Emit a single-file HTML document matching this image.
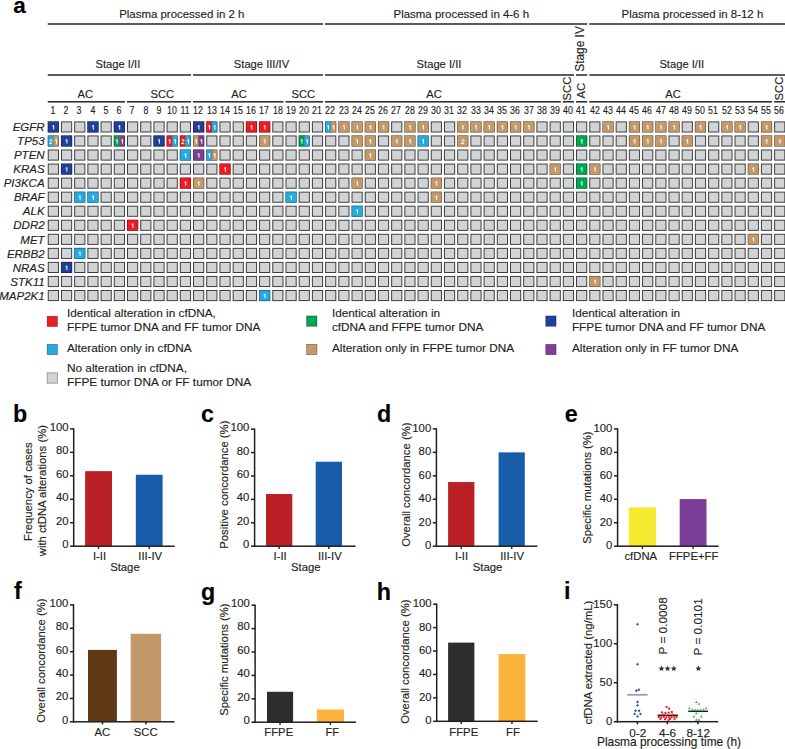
<!DOCTYPE html>
<html><head><meta charset="utf-8"><style>
html,body{margin:0;padding:0;background:#fff;}
#w{position:relative;width:785px;height:749px;overflow:hidden;background:#fff;font-family:"Liberation Sans", sans-serif;}
.t{position:absolute;white-space:nowrap;line-height:1;font-family:"Liberation Sans", sans-serif;-webkit-text-stroke:0.15px currentColor;}
.r{position:absolute;}
</style></head><body><div id="w">
<div class="t" style="left:13.24px;top:-5.00px;font-size:22.5px;font-weight:bold;color:#000;letter-spacing:0px;">a</div><svg class="r" style="left:0;top:0" width="785" height="749"><rect x="47.75" y="23.25" width="275.34" height="1.50" fill="#262626" /><rect x="325.10" y="23.25" width="262.13" height="1.50" fill="#262626" /><rect x="589.24" y="23.25" width="196.76" height="1.50" fill="#262626" /><rect x="47.75" y="74.25" width="143.27" height="1.50" fill="#262626" /><rect x="193.03" y="74.25" width="130.06" height="1.50" fill="#262626" /><rect x="325.10" y="74.25" width="248.93" height="1.50" fill="#262626" /><rect x="576.03" y="74.25" width="11.20" height="1.50" fill="#262626" /><rect x="589.24" y="74.25" width="196.76" height="1.50" fill="#262626" /><rect x="47.75" y="101.05" width="77.23" height="1.50" fill="#262626" /><rect x="126.99" y="101.05" width="64.03" height="1.50" fill="#262626" /><rect x="193.03" y="101.05" width="90.44" height="1.50" fill="#262626" /><rect x="285.48" y="101.05" width="37.61" height="1.50" fill="#262626" /><rect x="325.10" y="101.05" width="235.72" height="1.50" fill="#262626" /><rect x="562.82" y="101.05" width="11.20" height="1.50" fill="#262626" /><rect x="576.03" y="101.05" width="11.20" height="1.50" fill="#262626" /><rect x="589.24" y="101.05" width="182.89" height="1.50" fill="#262626" /><rect x="774.13" y="101.05" width="11.87" height="1.50" fill="#262626" /><rect x="47.15" y="316.25" width="10.30" height="10.30" fill="#ed1c24" stroke="#000" stroke-opacity="0.45" stroke-width="0.7"/><rect x="47.15" y="344.35" width="10.30" height="10.30" fill="#27aae1" stroke="#000" stroke-opacity="0.45" stroke-width="0.7"/><rect x="47.15" y="372.85" width="10.30" height="10.30" fill="#d1d3d4" stroke="#000" stroke-opacity="0.45" stroke-width="0.7"/><rect x="306.65" y="315.95" width="10.30" height="10.30" fill="#00a651" stroke="#000" stroke-opacity="0.45" stroke-width="0.7"/><rect x="306.65" y="344.35" width="10.30" height="10.30" fill="#c49a6c" stroke="#000" stroke-opacity="0.45" stroke-width="0.7"/><rect x="545.75" y="315.95" width="10.30" height="10.30" fill="#21409a" stroke="#000" stroke-opacity="0.45" stroke-width="0.7"/><rect x="545.75" y="344.35" width="10.30" height="10.30" fill="#7f3f98" stroke="#000" stroke-opacity="0.45" stroke-width="0.7"/><rect x="85.10" y="471.13" width="26.90" height="75.07" fill="#bb2026" /><rect x="135.80" y="474.76" width="26.80" height="71.44" fill="#165ca9" /><rect x="72.95" y="428.20" width="1.50" height="118.70" fill="#231f20" /><rect x="72.95" y="545.45" width="101.75" height="1.50" fill="#231f20" /><rect x="70.10" y="545.45" width="3.60" height="1.50" fill="#231f20" /><rect x="70.10" y="521.99" width="3.60" height="1.50" fill="#231f20" /><rect x="70.10" y="498.53" width="3.60" height="1.50" fill="#231f20" /><rect x="70.10" y="475.07" width="3.60" height="1.50" fill="#231f20" /><rect x="70.10" y="451.61" width="3.60" height="1.50" fill="#231f20" /><rect x="70.10" y="428.15" width="3.60" height="1.50" fill="#231f20" /><rect x="97.80" y="546.20" width="1.50" height="2.60" fill="#231f20" /><rect x="148.45" y="546.20" width="1.50" height="2.60" fill="#231f20" /><rect x="266.00" y="494.02" width="26.30" height="52.18" fill="#bb2026" /><rect x="315.70" y="461.73" width="26.30" height="84.47" fill="#165ca9" /><rect x="253.85" y="428.50" width="1.50" height="118.40" fill="#231f20" /><rect x="253.85" y="545.45" width="101.75" height="1.50" fill="#231f20" /><rect x="251.00" y="545.45" width="3.60" height="1.50" fill="#231f20" /><rect x="251.00" y="522.05" width="3.60" height="1.50" fill="#231f20" /><rect x="251.00" y="498.65" width="3.60" height="1.50" fill="#231f20" /><rect x="251.00" y="475.25" width="3.60" height="1.50" fill="#231f20" /><rect x="251.00" y="451.85" width="3.60" height="1.50" fill="#231f20" /><rect x="251.00" y="428.45" width="3.60" height="1.50" fill="#231f20" /><rect x="278.40" y="546.20" width="1.50" height="2.60" fill="#231f20" /><rect x="328.10" y="546.20" width="1.50" height="2.60" fill="#231f20" /><rect x="448.10" y="482.04" width="26.30" height="64.16" fill="#bb2026" /><rect x="498.60" y="452.36" width="26.20" height="93.84" fill="#165ca9" /><rect x="435.65" y="428.20" width="1.50" height="118.70" fill="#231f20" /><rect x="435.65" y="545.45" width="101.75" height="1.50" fill="#231f20" /><rect x="432.80" y="545.45" width="3.60" height="1.50" fill="#231f20" /><rect x="432.80" y="521.99" width="3.60" height="1.50" fill="#231f20" /><rect x="432.80" y="498.53" width="3.60" height="1.50" fill="#231f20" /><rect x="432.80" y="475.07" width="3.60" height="1.50" fill="#231f20" /><rect x="432.80" y="451.61" width="3.60" height="1.50" fill="#231f20" /><rect x="432.80" y="428.15" width="3.60" height="1.50" fill="#231f20" /><rect x="460.50" y="546.20" width="1.50" height="2.60" fill="#231f20" /><rect x="510.95" y="546.20" width="1.50" height="2.60" fill="#231f20" /><rect x="628.80" y="507.37" width="27.20" height="38.83" fill="#f5ea30" /><rect x="679.70" y="499.05" width="26.80" height="47.15" fill="#7c3f97" /><rect x="616.85" y="428.20" width="1.50" height="118.70" fill="#231f20" /><rect x="616.85" y="545.45" width="101.75" height="1.50" fill="#231f20" /><rect x="614.00" y="545.45" width="3.60" height="1.50" fill="#231f20" /><rect x="614.00" y="521.99" width="3.60" height="1.50" fill="#231f20" /><rect x="614.00" y="498.53" width="3.60" height="1.50" fill="#231f20" /><rect x="614.00" y="475.07" width="3.60" height="1.50" fill="#231f20" /><rect x="614.00" y="451.61" width="3.60" height="1.50" fill="#231f20" /><rect x="614.00" y="428.15" width="3.60" height="1.50" fill="#231f20" /><rect x="641.65" y="546.20" width="1.50" height="2.60" fill="#231f20" /><rect x="692.35" y="546.20" width="1.50" height="2.60" fill="#231f20" /><rect x="88.00" y="649.91" width="28.90" height="71.89" fill="#603a17" /><rect x="130.70" y="633.77" width="30.40" height="88.03" fill="#c2986b" /><rect x="72.75" y="604.20" width="1.50" height="118.30" fill="#231f20" /><rect x="72.75" y="721.05" width="101.75" height="1.50" fill="#231f20" /><rect x="69.90" y="721.05" width="3.60" height="1.50" fill="#231f20" /><rect x="69.90" y="697.67" width="3.60" height="1.50" fill="#231f20" /><rect x="69.90" y="674.29" width="3.60" height="1.50" fill="#231f20" /><rect x="69.90" y="650.91" width="3.60" height="1.50" fill="#231f20" /><rect x="69.90" y="627.53" width="3.60" height="1.50" fill="#231f20" /><rect x="69.90" y="604.15" width="3.60" height="1.50" fill="#231f20" /><rect x="101.70" y="721.80" width="1.50" height="2.60" fill="#231f20" /><rect x="145.15" y="721.80" width="1.50" height="2.60" fill="#231f20" /><rect x="267.00" y="691.78" width="26.10" height="30.42" fill="#2d2d2d" /><rect x="316.80" y="709.45" width="27.20" height="12.75" fill="#fbb53c" /><rect x="254.35" y="604.50" width="1.50" height="118.40" fill="#231f20" /><rect x="254.35" y="721.45" width="101.75" height="1.50" fill="#231f20" /><rect x="251.50" y="721.45" width="3.60" height="1.50" fill="#231f20" /><rect x="251.50" y="698.05" width="3.60" height="1.50" fill="#231f20" /><rect x="251.50" y="674.65" width="3.60" height="1.50" fill="#231f20" /><rect x="251.50" y="651.25" width="3.60" height="1.50" fill="#231f20" /><rect x="251.50" y="627.85" width="3.60" height="1.50" fill="#231f20" /><rect x="251.50" y="604.45" width="3.60" height="1.50" fill="#231f20" /><rect x="279.30" y="722.20" width="1.50" height="2.60" fill="#231f20" /><rect x="329.65" y="722.20" width="1.50" height="2.60" fill="#231f20" /><rect x="448.10" y="642.61" width="26.30" height="78.69" fill="#2d2d2d" /><rect x="498.60" y="654.08" width="26.70" height="67.22" fill="#fbb53c" /><rect x="435.95" y="603.50" width="1.50" height="118.50" fill="#231f20" /><rect x="435.95" y="720.55" width="101.75" height="1.50" fill="#231f20" /><rect x="433.10" y="720.55" width="3.60" height="1.50" fill="#231f20" /><rect x="433.10" y="697.13" width="3.60" height="1.50" fill="#231f20" /><rect x="433.10" y="673.71" width="3.60" height="1.50" fill="#231f20" /><rect x="433.10" y="650.29" width="3.60" height="1.50" fill="#231f20" /><rect x="433.10" y="626.87" width="3.60" height="1.50" fill="#231f20" /><rect x="433.10" y="603.45" width="3.60" height="1.50" fill="#231f20" /><rect x="460.50" y="721.30" width="1.50" height="2.60" fill="#231f20" /><rect x="511.20" y="721.30" width="1.50" height="2.60" fill="#231f20" /><rect x="616.65" y="604.10" width="1.50" height="118.30" fill="#231f20" /><rect x="616.65" y="720.95" width="101.55" height="1.50" fill="#231f20" /><rect x="613.80" y="720.95" width="3.60" height="1.50" fill="#231f20" /><rect x="613.80" y="681.98" width="3.60" height="1.50" fill="#231f20" /><rect x="613.80" y="643.02" width="3.60" height="1.50" fill="#231f20" /><rect x="613.80" y="604.05" width="3.60" height="1.50" fill="#231f20" /><rect x="636.65" y="721.70" width="1.50" height="2.60" fill="#231f20" /><rect x="666.55" y="721.70" width="1.50" height="2.60" fill="#231f20" /><rect x="697.15" y="721.70" width="1.50" height="2.60" fill="#231f20" /><polygon points="661.50,665.50 662.32,667.47 664.45,667.64 662.83,669.03 663.32,671.11 661.50,670.00 659.68,671.11 660.17,669.03 658.55,667.64 660.68,667.47" fill="#333"/><polygon points="667.60,665.50 668.42,667.47 670.55,667.64 668.93,669.03 669.42,671.11 667.60,670.00 665.78,671.11 666.27,669.03 664.65,667.64 666.78,667.47" fill="#333"/><polygon points="673.80,665.50 674.62,667.47 676.75,667.64 675.13,669.03 675.62,671.11 673.80,670.00 671.98,671.11 672.47,669.03 670.85,667.64 672.98,667.47" fill="#333"/><polygon points="698.40,665.50 699.22,667.47 701.35,667.64 699.73,669.03 700.22,671.11 698.40,670.00 696.58,671.11 697.07,669.03 695.45,667.64 697.58,667.47" fill="#333"/><rect x="627.30" y="693.90" width="20.30" height="1.80" fill="#9d9fa2" /><rect x="657.60" y="714.55" width="20.40" height="1.50" fill="#231f20" /><rect x="688.20" y="710.55" width="19.80" height="1.50" fill="#231f20" /><polygon points="637.50,622.85 638.95,624.30 637.50,625.75 636.05,624.30" fill="#2b4c9b"/><polygon points="637.50,662.75 638.95,664.20 637.50,665.65 636.05,664.20" fill="#2b4c9b"/><polygon points="636.30,689.25 637.75,690.70 636.30,692.15 634.85,690.70" fill="#2b4c9b"/><polygon points="638.90,688.25 640.35,689.70 638.90,691.15 637.45,689.70" fill="#2b4c9b"/><polygon points="637.50,700.55 638.95,702.00 637.50,703.45 636.05,702.00" fill="#2b4c9b"/><polygon points="637.50,703.95 638.95,705.40 637.50,706.85 636.05,705.40" fill="#2b4c9b"/><polygon points="635.50,709.25 636.95,710.70 635.50,712.15 634.05,710.70" fill="#2b4c9b"/><polygon points="639.10,709.25 640.55,710.70 639.10,712.15 637.65,710.70" fill="#2b4c9b"/><polygon points="634.60,712.45 636.05,713.90 634.60,715.35 633.15,713.90" fill="#2b4c9b"/><polygon points="640.40,712.45 641.85,713.90 640.40,715.35 638.95,713.90" fill="#2b4c9b"/><polygon points="637.50,714.95 638.95,716.40 637.50,717.85 636.05,716.40" fill="#2b4c9b"/><rect x="665.50" y="705.90" width="2.00" height="2.00" fill="#ec1c24" /><rect x="668.00" y="707.60" width="2.00" height="2.00" fill="#ec1c24" /><rect x="661.00" y="711.40" width="2.00" height="2.00" fill="#ec1c24" /><rect x="664.50" y="711.90" width="2.00" height="2.00" fill="#ec1c24" /><rect x="667.60" y="711.60" width="2.00" height="2.00" fill="#ec1c24" /><rect x="670.80" y="711.00" width="2.00" height="2.00" fill="#ec1c24" /><rect x="657.80" y="716.00" width="2.00" height="2.00" fill="#ec1c24" /><rect x="660.30" y="716.20" width="2.00" height="2.00" fill="#ec1c24" /><rect x="662.80" y="715.80" width="2.00" height="2.00" fill="#ec1c24" /><rect x="665.30" y="716.40" width="2.00" height="2.00" fill="#ec1c24" /><rect x="667.80" y="715.90" width="2.00" height="2.00" fill="#ec1c24" /><rect x="670.30" y="716.20" width="2.00" height="2.00" fill="#ec1c24" /><rect x="672.80" y="715.80" width="2.00" height="2.00" fill="#ec1c24" /><rect x="675.40" y="716.10" width="2.00" height="2.00" fill="#ec1c24" /><rect x="659.50" y="718.00" width="2.00" height="2.00" fill="#ec1c24" /><rect x="664.00" y="718.20" width="2.00" height="2.00" fill="#ec1c24" /><rect x="669.00" y="718.00" width="2.00" height="2.00" fill="#ec1c24" /><rect x="673.50" y="718.20" width="2.00" height="2.00" fill="#ec1c24" /><rect x="667.40" y="719.30" width="2.00" height="2.00" fill="#ec1c24" /><rect x="662.50" y="713.60" width="2.00" height="2.00" fill="#ec1c24" /><rect x="671.50" y="713.60" width="2.00" height="2.00" fill="#ec1c24" /><polygon points="696.40,700.70 697.80,703.10 695.00,703.10" fill="#39b54a"/><polygon points="699.00,702.40 700.40,704.80 697.60,704.80" fill="#39b54a"/><polygon points="689.40,706.90 690.80,709.30 688.00,709.30" fill="#39b54a"/><polygon points="692.60,708.20 694.00,710.60 691.20,710.60" fill="#39b54a"/><polygon points="695.20,708.50 696.60,710.90 693.80,710.90" fill="#39b54a"/><polygon points="697.70,708.70 699.10,711.10 696.30,711.10" fill="#39b54a"/><polygon points="700.30,708.50 701.70,710.90 698.90,710.90" fill="#39b54a"/><polygon points="703.40,708.20 704.80,710.60 702.00,710.60" fill="#39b54a"/><polygon points="706.00,706.90 707.40,709.30 704.60,709.30" fill="#39b54a"/><polygon points="696.40,711.90 697.80,714.30 695.00,714.30" fill="#39b54a"/><polygon points="693.90,715.10 695.30,717.50 692.50,717.50" fill="#39b54a"/><polygon points="701.50,715.10 702.90,717.50 700.10,717.50" fill="#39b54a"/><polygon points="696.40,718.30 697.80,720.70 695.00,720.70" fill="#39b54a"/><polygon points="699.00,718.30 700.40,720.70 697.60,720.70" fill="#39b54a"/></svg><div class="t" style="left:-18.20px;width:400px;text-align:center;top:9.00px;font-size:11.45px;font-weight:normal;color:#231f20;letter-spacing:0px;">Plasma processed in 2 h</div>
<div class="t" style="left:261.30px;width:400px;text-align:center;top:9.00px;font-size:11.45px;font-weight:normal;color:#231f20;letter-spacing:0px;">Plasma processed in 4-6 h</div>
<div class="t" style="left:492.40px;width:400px;text-align:center;top:9.00px;font-size:11.45px;font-weight:normal;color:#231f20;letter-spacing:0px;">Plasma processed in 8-12 h</div>
<div class="t" style="left:-82.10px;width:400px;text-align:center;top:59.00px;font-size:11.2px;font-weight:normal;color:#231f20;letter-spacing:0px;">Stage I/II</div>
<div class="t" style="left:61.50px;width:400px;text-align:center;top:59.00px;font-size:11.2px;font-weight:normal;color:#231f20;letter-spacing:0px;">Stage III/IV</div>
<div class="t" style="left:239.00px;width:400px;text-align:center;top:59.00px;font-size:11.2px;font-weight:normal;color:#231f20;letter-spacing:0px;">Stage I/II</div>
<div class="t" style="left:481.80px;width:400px;text-align:center;top:59.00px;font-size:11.2px;font-weight:normal;color:#231f20;letter-spacing:0px;">Stage I/II</div>
<div class="t" style="left:380.93px;top:43.05px;width:400px;height:11.9px;line-height:11.9px;text-align:center;font-size:11.9px;color:#231f20;font-weight:normal;transform:rotate(-90deg);transform-origin:200px 5.95px">Stage IV</div>
<div class="t" style="left:-114.80px;width:400px;text-align:center;top:89.00px;font-size:11.2px;font-weight:normal;color:#231f20;letter-spacing:0px;">AC</div>
<div class="t" style="left:-37.70px;width:400px;text-align:center;top:89.00px;font-size:11.2px;font-weight:normal;color:#231f20;letter-spacing:0px;">SCC</div>
<div class="t" style="left:39.10px;width:400px;text-align:center;top:89.00px;font-size:11.2px;font-weight:normal;color:#231f20;letter-spacing:0px;">AC</div>
<div class="t" style="left:103.30px;width:400px;text-align:center;top:89.00px;font-size:11.2px;font-weight:normal;color:#231f20;letter-spacing:0px;">SCC</div>
<div class="t" style="left:234.00px;width:400px;text-align:center;top:89.00px;font-size:11.2px;font-weight:normal;color:#231f20;letter-spacing:0px;">AC</div>
<div class="t" style="left:473.10px;width:400px;text-align:center;top:89.00px;font-size:11.2px;font-weight:normal;color:#231f20;letter-spacing:0px;">AC</div>
<div class="t" style="left:368.42px;top:82.60px;width:400px;height:11.2px;line-height:11.2px;text-align:center;font-size:11.2px;color:#231f20;font-weight:normal;transform:rotate(-90deg);transform-origin:200px 5.6px">SCC</div>
<div class="t" style="left:381.63px;top:85.40px;width:400px;height:11.2px;line-height:11.2px;text-align:center;font-size:11.2px;color:#231f20;font-weight:normal;transform:rotate(-90deg);transform-origin:200px 5.6px">AC</div>
<div class="t" style="left:579.74px;top:82.90px;width:400px;height:11.2px;line-height:11.2px;text-align:center;font-size:11.2px;color:#231f20;font-weight:normal;transform:rotate(-90deg);transform-origin:200px 5.6px">SCC</div>
<div class="t" style="left:-146.95px;width:400px;text-align:center;top:106.00px;font-size:10.0px;font-weight:normal;color:#231f20;letter-spacing:0px;transform:scaleX(0.88)">1</div>
<div class="t" style="left:-133.74px;width:400px;text-align:center;top:106.00px;font-size:10.0px;font-weight:normal;color:#231f20;letter-spacing:0px;transform:scaleX(0.88)">2</div>
<div class="t" style="left:-120.54px;width:400px;text-align:center;top:106.00px;font-size:10.0px;font-weight:normal;color:#231f20;letter-spacing:0px;transform:scaleX(0.88)">3</div>
<div class="t" style="left:-107.33px;width:400px;text-align:center;top:106.00px;font-size:10.0px;font-weight:normal;color:#231f20;letter-spacing:0px;transform:scaleX(0.88)">4</div>
<div class="t" style="left:-94.12px;width:400px;text-align:center;top:106.00px;font-size:10.0px;font-weight:normal;color:#231f20;letter-spacing:0px;transform:scaleX(0.88)">5</div>
<div class="t" style="left:-80.92px;width:400px;text-align:center;top:106.00px;font-size:10.0px;font-weight:normal;color:#231f20;letter-spacing:0px;transform:scaleX(0.88)">6</div>
<div class="t" style="left:-67.71px;width:400px;text-align:center;top:106.00px;font-size:10.0px;font-weight:normal;color:#231f20;letter-spacing:0px;transform:scaleX(0.88)">7</div>
<div class="t" style="left:-54.50px;width:400px;text-align:center;top:106.00px;font-size:10.0px;font-weight:normal;color:#231f20;letter-spacing:0px;transform:scaleX(0.88)">8</div>
<div class="t" style="left:-41.29px;width:400px;text-align:center;top:106.00px;font-size:10.0px;font-weight:normal;color:#231f20;letter-spacing:0px;transform:scaleX(0.88)">9</div>
<div class="t" style="left:-28.09px;width:400px;text-align:center;top:106.00px;font-size:10.0px;font-weight:normal;color:#231f20;letter-spacing:0px;transform:scaleX(0.88)">10</div>
<div class="t" style="left:-14.88px;width:400px;text-align:center;top:106.00px;font-size:10.0px;font-weight:normal;color:#231f20;letter-spacing:0px;transform:scaleX(0.88)">11</div>
<div class="t" style="left:-1.67px;width:400px;text-align:center;top:106.00px;font-size:10.0px;font-weight:normal;color:#231f20;letter-spacing:0px;transform:scaleX(0.88)">12</div>
<div class="t" style="left:11.53px;width:400px;text-align:center;top:106.00px;font-size:10.0px;font-weight:normal;color:#231f20;letter-spacing:0px;transform:scaleX(0.88)">13</div>
<div class="t" style="left:24.74px;width:400px;text-align:center;top:106.00px;font-size:10.0px;font-weight:normal;color:#231f20;letter-spacing:0px;transform:scaleX(0.88)">14</div>
<div class="t" style="left:37.95px;width:400px;text-align:center;top:106.00px;font-size:10.0px;font-weight:normal;color:#231f20;letter-spacing:0px;transform:scaleX(0.88)">15</div>
<div class="t" style="left:51.16px;width:400px;text-align:center;top:106.00px;font-size:10.0px;font-weight:normal;color:#231f20;letter-spacing:0px;transform:scaleX(0.88)">16</div>
<div class="t" style="left:64.36px;width:400px;text-align:center;top:106.00px;font-size:10.0px;font-weight:normal;color:#231f20;letter-spacing:0px;transform:scaleX(0.88)">17</div>
<div class="t" style="left:77.57px;width:400px;text-align:center;top:106.00px;font-size:10.0px;font-weight:normal;color:#231f20;letter-spacing:0px;transform:scaleX(0.88)">18</div>
<div class="t" style="left:90.78px;width:400px;text-align:center;top:106.00px;font-size:10.0px;font-weight:normal;color:#231f20;letter-spacing:0px;transform:scaleX(0.88)">19</div>
<div class="t" style="left:103.98px;width:400px;text-align:center;top:106.00px;font-size:10.0px;font-weight:normal;color:#231f20;letter-spacing:0px;transform:scaleX(0.88)">20</div>
<div class="t" style="left:117.19px;width:400px;text-align:center;top:106.00px;font-size:10.0px;font-weight:normal;color:#231f20;letter-spacing:0px;transform:scaleX(0.88)">21</div>
<div class="t" style="left:130.40px;width:400px;text-align:center;top:106.00px;font-size:10.0px;font-weight:normal;color:#231f20;letter-spacing:0px;transform:scaleX(0.88)">22</div>
<div class="t" style="left:143.60px;width:400px;text-align:center;top:106.00px;font-size:10.0px;font-weight:normal;color:#231f20;letter-spacing:0px;transform:scaleX(0.88)">23</div>
<div class="t" style="left:156.81px;width:400px;text-align:center;top:106.00px;font-size:10.0px;font-weight:normal;color:#231f20;letter-spacing:0px;transform:scaleX(0.88)">24</div>
<div class="t" style="left:170.02px;width:400px;text-align:center;top:106.00px;font-size:10.0px;font-weight:normal;color:#231f20;letter-spacing:0px;transform:scaleX(0.88)">25</div>
<div class="t" style="left:183.23px;width:400px;text-align:center;top:106.00px;font-size:10.0px;font-weight:normal;color:#231f20;letter-spacing:0px;transform:scaleX(0.88)">26</div>
<div class="t" style="left:196.43px;width:400px;text-align:center;top:106.00px;font-size:10.0px;font-weight:normal;color:#231f20;letter-spacing:0px;transform:scaleX(0.88)">27</div>
<div class="t" style="left:209.64px;width:400px;text-align:center;top:106.00px;font-size:10.0px;font-weight:normal;color:#231f20;letter-spacing:0px;transform:scaleX(0.88)">28</div>
<div class="t" style="left:222.85px;width:400px;text-align:center;top:106.00px;font-size:10.0px;font-weight:normal;color:#231f20;letter-spacing:0px;transform:scaleX(0.88)">29</div>
<div class="t" style="left:236.05px;width:400px;text-align:center;top:106.00px;font-size:10.0px;font-weight:normal;color:#231f20;letter-spacing:0px;transform:scaleX(0.88)">30</div>
<div class="t" style="left:249.26px;width:400px;text-align:center;top:106.00px;font-size:10.0px;font-weight:normal;color:#231f20;letter-spacing:0px;transform:scaleX(0.88)">31</div>
<div class="t" style="left:262.47px;width:400px;text-align:center;top:106.00px;font-size:10.0px;font-weight:normal;color:#231f20;letter-spacing:0px;transform:scaleX(0.88)">32</div>
<div class="t" style="left:275.67px;width:400px;text-align:center;top:106.00px;font-size:10.0px;font-weight:normal;color:#231f20;letter-spacing:0px;transform:scaleX(0.88)">33</div>
<div class="t" style="left:288.88px;width:400px;text-align:center;top:106.00px;font-size:10.0px;font-weight:normal;color:#231f20;letter-spacing:0px;transform:scaleX(0.88)">34</div>
<div class="t" style="left:302.09px;width:400px;text-align:center;top:106.00px;font-size:10.0px;font-weight:normal;color:#231f20;letter-spacing:0px;transform:scaleX(0.88)">35</div>
<div class="t" style="left:315.30px;width:400px;text-align:center;top:106.00px;font-size:10.0px;font-weight:normal;color:#231f20;letter-spacing:0px;transform:scaleX(0.88)">36</div>
<div class="t" style="left:328.50px;width:400px;text-align:center;top:106.00px;font-size:10.0px;font-weight:normal;color:#231f20;letter-spacing:0px;transform:scaleX(0.88)">37</div>
<div class="t" style="left:341.71px;width:400px;text-align:center;top:106.00px;font-size:10.0px;font-weight:normal;color:#231f20;letter-spacing:0px;transform:scaleX(0.88)">38</div>
<div class="t" style="left:354.92px;width:400px;text-align:center;top:106.00px;font-size:10.0px;font-weight:normal;color:#231f20;letter-spacing:0px;transform:scaleX(0.88)">39</div>
<div class="t" style="left:368.12px;width:400px;text-align:center;top:106.00px;font-size:10.0px;font-weight:normal;color:#231f20;letter-spacing:0px;transform:scaleX(0.88)">40</div>
<div class="t" style="left:381.33px;width:400px;text-align:center;top:106.00px;font-size:10.0px;font-weight:normal;color:#231f20;letter-spacing:0px;transform:scaleX(0.88)">41</div>
<div class="t" style="left:394.54px;width:400px;text-align:center;top:106.00px;font-size:10.0px;font-weight:normal;color:#231f20;letter-spacing:0px;transform:scaleX(0.88)">42</div>
<div class="t" style="left:407.74px;width:400px;text-align:center;top:106.00px;font-size:10.0px;font-weight:normal;color:#231f20;letter-spacing:0px;transform:scaleX(0.88)">43</div>
<div class="t" style="left:420.95px;width:400px;text-align:center;top:106.00px;font-size:10.0px;font-weight:normal;color:#231f20;letter-spacing:0px;transform:scaleX(0.88)">44</div>
<div class="t" style="left:434.16px;width:400px;text-align:center;top:106.00px;font-size:10.0px;font-weight:normal;color:#231f20;letter-spacing:0px;transform:scaleX(0.88)">45</div>
<div class="t" style="left:447.37px;width:400px;text-align:center;top:106.00px;font-size:10.0px;font-weight:normal;color:#231f20;letter-spacing:0px;transform:scaleX(0.88)">46</div>
<div class="t" style="left:460.57px;width:400px;text-align:center;top:106.00px;font-size:10.0px;font-weight:normal;color:#231f20;letter-spacing:0px;transform:scaleX(0.88)">47</div>
<div class="t" style="left:473.78px;width:400px;text-align:center;top:106.00px;font-size:10.0px;font-weight:normal;color:#231f20;letter-spacing:0px;transform:scaleX(0.88)">48</div>
<div class="t" style="left:486.99px;width:400px;text-align:center;top:106.00px;font-size:10.0px;font-weight:normal;color:#231f20;letter-spacing:0px;transform:scaleX(0.88)">49</div>
<div class="t" style="left:500.19px;width:400px;text-align:center;top:106.00px;font-size:10.0px;font-weight:normal;color:#231f20;letter-spacing:0px;transform:scaleX(0.88)">50</div>
<div class="t" style="left:513.40px;width:400px;text-align:center;top:106.00px;font-size:10.0px;font-weight:normal;color:#231f20;letter-spacing:0px;transform:scaleX(0.88)">51</div>
<div class="t" style="left:526.61px;width:400px;text-align:center;top:106.00px;font-size:10.0px;font-weight:normal;color:#231f20;letter-spacing:0px;transform:scaleX(0.88)">52</div>
<div class="t" style="left:539.81px;width:400px;text-align:center;top:106.00px;font-size:10.0px;font-weight:normal;color:#231f20;letter-spacing:0px;transform:scaleX(0.88)">53</div>
<div class="t" style="left:553.02px;width:400px;text-align:center;top:106.00px;font-size:10.0px;font-weight:normal;color:#231f20;letter-spacing:0px;transform:scaleX(0.88)">54</div>
<div class="t" style="left:566.23px;width:400px;text-align:center;top:106.00px;font-size:10.0px;font-weight:normal;color:#231f20;letter-spacing:0px;transform:scaleX(0.88)">55</div>
<div class="t" style="left:579.44px;width:400px;text-align:center;top:106.00px;font-size:10.0px;font-weight:normal;color:#231f20;letter-spacing:0px;transform:scaleX(0.88)">56</div>
<div class="t" style="left:-355.40px;width:400px;text-align:right;top:122.00px;font-size:11.5px;font-weight:normal;color:#231f20;letter-spacing:0px;font-style:italic">EGFR</div>
<div class="t" style="left:-355.40px;width:400px;text-align:right;top:136.00px;font-size:11.5px;font-weight:normal;color:#231f20;letter-spacing:0px;font-style:italic">TP53</div>
<div class="t" style="left:-355.40px;width:400px;text-align:right;top:150.00px;font-size:11.5px;font-weight:normal;color:#231f20;letter-spacing:0px;font-style:italic">PTEN</div>
<div class="t" style="left:-355.40px;width:400px;text-align:right;top:164.00px;font-size:11.5px;font-weight:normal;color:#231f20;letter-spacing:0px;font-style:italic">KRAS</div>
<div class="t" style="left:-355.40px;width:400px;text-align:right;top:178.00px;font-size:11.5px;font-weight:normal;color:#231f20;letter-spacing:0px;font-style:italic">PI3KCA</div>
<div class="t" style="left:-355.40px;width:400px;text-align:right;top:192.00px;font-size:11.5px;font-weight:normal;color:#231f20;letter-spacing:0px;font-style:italic">BRAF</div>
<div class="t" style="left:-355.40px;width:400px;text-align:right;top:206.00px;font-size:11.5px;font-weight:normal;color:#231f20;letter-spacing:0px;font-style:italic">ALK</div>
<div class="t" style="left:-355.40px;width:400px;text-align:right;top:220.00px;font-size:11.5px;font-weight:normal;color:#231f20;letter-spacing:0px;font-style:italic">DDR2</div>
<div class="t" style="left:-355.40px;width:400px;text-align:right;top:235.00px;font-size:11.5px;font-weight:normal;color:#231f20;letter-spacing:0px;font-style:italic">MET</div>
<div class="t" style="left:-355.40px;width:400px;text-align:right;top:249.00px;font-size:11.5px;font-weight:normal;color:#231f20;letter-spacing:0px;font-style:italic">ERBB2</div>
<div class="t" style="left:-355.40px;width:400px;text-align:right;top:263.00px;font-size:11.5px;font-weight:normal;color:#231f20;letter-spacing:0px;font-style:italic">NRAS</div>
<div class="t" style="left:-355.40px;width:400px;text-align:right;top:277.00px;font-size:11.5px;font-weight:normal;color:#231f20;letter-spacing:0px;font-style:italic">STK11</div>
<div class="t" style="left:-355.40px;width:400px;text-align:right;top:291.00px;font-size:11.5px;font-weight:normal;color:#231f20;letter-spacing:0px;font-style:italic">MAP2K1</div>
<svg class="r" style="left:0;top:0" width="785" height="310"><rect x="47.75" y="121.40" width="11.20" height="11.10" fill="#21409a"/><rect x="48.05" y="121.70" width="10.60" height="10.50" fill="none" stroke="#000" stroke-opacity="0.5" stroke-width="0.6"/><rect x="61.46" y="121.90" width="10.20" height="10.10" fill="#d1d3d4" stroke="#3f3f41" stroke-width="1"/><rect x="74.66" y="121.90" width="10.20" height="10.10" fill="#d1d3d4" stroke="#3f3f41" stroke-width="1"/><rect x="87.37" y="121.40" width="11.20" height="11.10" fill="#21409a"/><rect x="87.67" y="121.70" width="10.60" height="10.50" fill="none" stroke="#000" stroke-opacity="0.5" stroke-width="0.6"/><rect x="101.08" y="121.90" width="10.20" height="10.10" fill="#d1d3d4" stroke="#3f3f41" stroke-width="1"/><rect x="113.78" y="121.40" width="11.20" height="11.10" fill="#21409a"/><rect x="114.08" y="121.70" width="10.60" height="10.50" fill="none" stroke="#000" stroke-opacity="0.5" stroke-width="0.6"/><rect x="127.49" y="121.90" width="10.20" height="10.10" fill="#d1d3d4" stroke="#3f3f41" stroke-width="1"/><rect x="140.70" y="121.90" width="10.20" height="10.10" fill="#d1d3d4" stroke="#3f3f41" stroke-width="1"/><rect x="153.91" y="121.90" width="10.20" height="10.10" fill="#d1d3d4" stroke="#3f3f41" stroke-width="1"/><rect x="167.11" y="121.90" width="10.20" height="10.10" fill="#d1d3d4" stroke="#3f3f41" stroke-width="1"/><rect x="180.32" y="121.90" width="10.20" height="10.10" fill="#d1d3d4" stroke="#3f3f41" stroke-width="1"/><rect x="193.03" y="121.40" width="11.20" height="11.10" fill="#2b3990"/><rect x="193.33" y="121.70" width="10.60" height="10.50" fill="none" stroke="#000" stroke-opacity="0.5" stroke-width="0.6"/><rect x="206.23" y="121.40" width="5.60" height="11.10" fill="#ed1c24"/><rect x="211.83" y="121.40" width="5.60" height="11.10" fill="#27aae1"/><line x1="211.83" y1="121.40" x2="211.83" y2="132.50" stroke="#000" stroke-opacity="0.45" stroke-width="0.6"/><rect x="206.53" y="121.70" width="10.60" height="10.50" fill="none" stroke="#000" stroke-opacity="0.5" stroke-width="0.6"/><rect x="219.94" y="121.90" width="10.20" height="10.10" fill="#d1d3d4" stroke="#3f3f41" stroke-width="1"/><rect x="233.15" y="121.90" width="10.20" height="10.10" fill="#d1d3d4" stroke="#3f3f41" stroke-width="1"/><rect x="245.86" y="121.40" width="11.20" height="11.10" fill="#ed1c24"/><rect x="246.16" y="121.70" width="10.60" height="10.50" fill="none" stroke="#000" stroke-opacity="0.5" stroke-width="0.6"/><rect x="259.06" y="121.40" width="11.20" height="11.10" fill="#ed1c24"/><rect x="259.36" y="121.70" width="10.60" height="10.50" fill="none" stroke="#000" stroke-opacity="0.5" stroke-width="0.6"/><rect x="272.77" y="121.90" width="10.20" height="10.10" fill="#d1d3d4" stroke="#3f3f41" stroke-width="1"/><rect x="285.98" y="121.90" width="10.20" height="10.10" fill="#d1d3d4" stroke="#3f3f41" stroke-width="1"/><rect x="299.18" y="121.90" width="10.20" height="10.10" fill="#d1d3d4" stroke="#3f3f41" stroke-width="1"/><rect x="312.39" y="121.90" width="10.20" height="10.10" fill="#d1d3d4" stroke="#3f3f41" stroke-width="1"/><rect x="325.10" y="121.40" width="5.60" height="11.10" fill="#27aae1"/><rect x="330.70" y="121.40" width="5.60" height="11.10" fill="#c49a6c"/><line x1="330.70" y1="121.40" x2="330.70" y2="132.50" stroke="#000" stroke-opacity="0.45" stroke-width="0.6"/><rect x="325.40" y="121.70" width="10.60" height="10.50" fill="none" stroke="#000" stroke-opacity="0.5" stroke-width="0.6"/><rect x="338.30" y="121.40" width="11.20" height="11.10" fill="#c49a6c"/><rect x="338.60" y="121.70" width="10.60" height="10.50" fill="none" stroke="#000" stroke-opacity="0.5" stroke-width="0.6"/><rect x="351.51" y="121.40" width="11.20" height="11.10" fill="#c49a6c"/><rect x="351.81" y="121.70" width="10.60" height="10.50" fill="none" stroke="#000" stroke-opacity="0.5" stroke-width="0.6"/><rect x="364.72" y="121.40" width="11.20" height="11.10" fill="#c49a6c"/><rect x="365.02" y="121.70" width="10.60" height="10.50" fill="none" stroke="#000" stroke-opacity="0.5" stroke-width="0.6"/><rect x="377.93" y="121.40" width="11.20" height="11.10" fill="#c49a6c"/><rect x="378.23" y="121.70" width="10.60" height="10.50" fill="none" stroke="#000" stroke-opacity="0.5" stroke-width="0.6"/><rect x="391.63" y="121.90" width="10.20" height="10.10" fill="#d1d3d4" stroke="#3f3f41" stroke-width="1"/><rect x="404.34" y="121.40" width="11.20" height="11.10" fill="#c49a6c"/><rect x="404.64" y="121.70" width="10.60" height="10.50" fill="none" stroke="#000" stroke-opacity="0.5" stroke-width="0.6"/><rect x="417.55" y="121.40" width="11.20" height="11.10" fill="#c49a6c"/><rect x="417.85" y="121.70" width="10.60" height="10.50" fill="none" stroke="#000" stroke-opacity="0.5" stroke-width="0.6"/><rect x="431.25" y="121.90" width="10.20" height="10.10" fill="#d1d3d4" stroke="#3f3f41" stroke-width="1"/><rect x="444.46" y="121.90" width="10.20" height="10.10" fill="#d1d3d4" stroke="#3f3f41" stroke-width="1"/><rect x="457.17" y="121.40" width="11.20" height="11.10" fill="#c49a6c"/><rect x="457.47" y="121.70" width="10.60" height="10.50" fill="none" stroke="#000" stroke-opacity="0.5" stroke-width="0.6"/><rect x="470.37" y="121.40" width="11.20" height="11.10" fill="#c49a6c"/><rect x="470.67" y="121.70" width="10.60" height="10.50" fill="none" stroke="#000" stroke-opacity="0.5" stroke-width="0.6"/><rect x="483.58" y="121.40" width="11.20" height="11.10" fill="#c49a6c"/><rect x="483.88" y="121.70" width="10.60" height="10.50" fill="none" stroke="#000" stroke-opacity="0.5" stroke-width="0.6"/><rect x="496.79" y="121.40" width="11.20" height="11.10" fill="#c49a6c"/><rect x="497.09" y="121.70" width="10.60" height="10.50" fill="none" stroke="#000" stroke-opacity="0.5" stroke-width="0.6"/><rect x="510.00" y="121.40" width="11.20" height="11.10" fill="#c49a6c"/><rect x="510.30" y="121.70" width="10.60" height="10.50" fill="none" stroke="#000" stroke-opacity="0.5" stroke-width="0.6"/><rect x="523.20" y="121.40" width="11.20" height="11.10" fill="#c49a6c"/><rect x="523.50" y="121.70" width="10.60" height="10.50" fill="none" stroke="#000" stroke-opacity="0.5" stroke-width="0.6"/><rect x="536.91" y="121.90" width="10.20" height="10.10" fill="#d1d3d4" stroke="#3f3f41" stroke-width="1"/><rect x="550.12" y="121.90" width="10.20" height="10.10" fill="#d1d3d4" stroke="#3f3f41" stroke-width="1"/><rect x="563.32" y="121.90" width="10.20" height="10.10" fill="#d1d3d4" stroke="#3f3f41" stroke-width="1"/><rect x="576.53" y="121.90" width="10.20" height="10.10" fill="#d1d3d4" stroke="#3f3f41" stroke-width="1"/><rect x="589.74" y="121.90" width="10.20" height="10.10" fill="#d1d3d4" stroke="#3f3f41" stroke-width="1"/><rect x="602.44" y="121.40" width="11.20" height="11.10" fill="#c49a6c"/><rect x="602.74" y="121.70" width="10.60" height="10.50" fill="none" stroke="#000" stroke-opacity="0.5" stroke-width="0.6"/><rect x="616.15" y="121.90" width="10.20" height="10.10" fill="#d1d3d4" stroke="#3f3f41" stroke-width="1"/><rect x="628.86" y="121.40" width="11.20" height="11.10" fill="#c49a6c"/><rect x="629.16" y="121.70" width="10.60" height="10.50" fill="none" stroke="#000" stroke-opacity="0.5" stroke-width="0.6"/><rect x="642.07" y="121.40" width="11.20" height="11.10" fill="#c49a6c"/><rect x="642.37" y="121.70" width="10.60" height="10.50" fill="none" stroke="#000" stroke-opacity="0.5" stroke-width="0.6"/><rect x="655.27" y="121.40" width="11.20" height="11.10" fill="#c49a6c"/><rect x="655.57" y="121.70" width="10.60" height="10.50" fill="none" stroke="#000" stroke-opacity="0.5" stroke-width="0.6"/><rect x="668.48" y="121.40" width="11.20" height="11.10" fill="#c49a6c"/><rect x="668.78" y="121.70" width="10.60" height="10.50" fill="none" stroke="#000" stroke-opacity="0.5" stroke-width="0.6"/><rect x="682.19" y="121.90" width="10.20" height="10.10" fill="#d1d3d4" stroke="#3f3f41" stroke-width="1"/><rect x="694.89" y="121.40" width="11.20" height="11.10" fill="#c49a6c"/><rect x="695.19" y="121.70" width="10.60" height="10.50" fill="none" stroke="#000" stroke-opacity="0.5" stroke-width="0.6"/><rect x="708.60" y="121.90" width="10.20" height="10.10" fill="#d1d3d4" stroke="#3f3f41" stroke-width="1"/><rect x="721.31" y="121.40" width="11.20" height="11.10" fill="#c49a6c"/><rect x="721.61" y="121.70" width="10.60" height="10.50" fill="none" stroke="#000" stroke-opacity="0.5" stroke-width="0.6"/><rect x="734.51" y="121.40" width="11.20" height="11.10" fill="#c49a6c"/><rect x="734.81" y="121.70" width="10.60" height="10.50" fill="none" stroke="#000" stroke-opacity="0.5" stroke-width="0.6"/><rect x="748.22" y="121.90" width="10.20" height="10.10" fill="#d1d3d4" stroke="#3f3f41" stroke-width="1"/><rect x="760.93" y="121.40" width="11.20" height="11.10" fill="#c49a6c"/><rect x="761.23" y="121.70" width="10.60" height="10.50" fill="none" stroke="#000" stroke-opacity="0.5" stroke-width="0.6"/><rect x="774.63" y="121.90" width="10.20" height="10.10" fill="#d1d3d4" stroke="#3f3f41" stroke-width="1"/><rect x="47.75" y="135.45" width="5.60" height="11.10" fill="#27aae1"/><rect x="53.35" y="135.45" width="5.60" height="11.10" fill="#c49a6c"/><line x1="53.35" y1="135.45" x2="53.35" y2="146.55" stroke="#000" stroke-opacity="0.45" stroke-width="0.6"/><rect x="48.05" y="135.75" width="10.60" height="10.50" fill="none" stroke="#000" stroke-opacity="0.5" stroke-width="0.6"/><rect x="60.96" y="135.45" width="11.20" height="11.10" fill="#21409a"/><rect x="61.26" y="135.75" width="10.60" height="10.50" fill="none" stroke="#000" stroke-opacity="0.5" stroke-width="0.6"/><rect x="74.66" y="135.95" width="10.20" height="10.10" fill="#d1d3d4" stroke="#3f3f41" stroke-width="1"/><rect x="87.87" y="135.95" width="10.20" height="10.10" fill="#d1d3d4" stroke="#3f3f41" stroke-width="1"/><rect x="101.08" y="135.95" width="10.20" height="10.10" fill="#d1d3d4" stroke="#3f3f41" stroke-width="1"/><rect x="113.78" y="135.45" width="5.60" height="11.10" fill="#00a651"/><rect x="119.38" y="135.45" width="5.60" height="11.10" fill="#7f3f98"/><line x1="119.38" y1="135.45" x2="119.38" y2="146.55" stroke="#000" stroke-opacity="0.45" stroke-width="0.6"/><rect x="114.08" y="135.75" width="10.60" height="10.50" fill="none" stroke="#000" stroke-opacity="0.5" stroke-width="0.6"/><rect x="127.49" y="135.95" width="10.20" height="10.10" fill="#d1d3d4" stroke="#3f3f41" stroke-width="1"/><rect x="140.70" y="135.95" width="10.20" height="10.10" fill="#d1d3d4" stroke="#3f3f41" stroke-width="1"/><rect x="153.41" y="135.45" width="11.20" height="11.10" fill="#21409a"/><rect x="153.71" y="135.75" width="10.60" height="10.50" fill="none" stroke="#000" stroke-opacity="0.5" stroke-width="0.6"/><rect x="166.61" y="135.45" width="5.60" height="11.10" fill="#ed1c24"/><rect x="172.21" y="135.45" width="5.60" height="11.10" fill="#27aae1"/><line x1="172.21" y1="135.45" x2="172.21" y2="146.55" stroke="#000" stroke-opacity="0.45" stroke-width="0.6"/><rect x="166.91" y="135.75" width="10.60" height="10.50" fill="none" stroke="#000" stroke-opacity="0.5" stroke-width="0.6"/><rect x="179.82" y="135.45" width="5.60" height="11.10" fill="#ed1c24"/><rect x="185.42" y="135.45" width="5.60" height="11.10" fill="#27aae1"/><line x1="185.42" y1="135.45" x2="185.42" y2="146.55" stroke="#000" stroke-opacity="0.45" stroke-width="0.6"/><rect x="180.12" y="135.75" width="10.60" height="10.50" fill="none" stroke="#000" stroke-opacity="0.5" stroke-width="0.6"/><rect x="193.03" y="135.45" width="5.60" height="11.10" fill="#c49a6c"/><rect x="198.63" y="135.45" width="5.60" height="11.10" fill="#7f3f98"/><line x1="198.63" y1="135.45" x2="198.63" y2="146.55" stroke="#000" stroke-opacity="0.45" stroke-width="0.6"/><rect x="193.33" y="135.75" width="10.60" height="10.50" fill="none" stroke="#000" stroke-opacity="0.5" stroke-width="0.6"/><rect x="206.73" y="135.95" width="10.20" height="10.10" fill="#d1d3d4" stroke="#3f3f41" stroke-width="1"/><rect x="219.94" y="135.95" width="10.20" height="10.10" fill="#d1d3d4" stroke="#3f3f41" stroke-width="1"/><rect x="233.15" y="135.95" width="10.20" height="10.10" fill="#d1d3d4" stroke="#3f3f41" stroke-width="1"/><rect x="246.36" y="135.95" width="10.20" height="10.10" fill="#d1d3d4" stroke="#3f3f41" stroke-width="1"/><rect x="259.06" y="135.45" width="11.20" height="11.10" fill="#c49a6c"/><rect x="259.36" y="135.75" width="10.60" height="10.50" fill="none" stroke="#000" stroke-opacity="0.5" stroke-width="0.6"/><rect x="272.77" y="135.95" width="10.20" height="10.10" fill="#d1d3d4" stroke="#3f3f41" stroke-width="1"/><rect x="285.98" y="135.95" width="10.20" height="10.10" fill="#d1d3d4" stroke="#3f3f41" stroke-width="1"/><rect x="298.68" y="135.45" width="5.60" height="11.10" fill="#00a651"/><rect x="304.28" y="135.45" width="5.60" height="11.10" fill="#27aae1"/><line x1="304.28" y1="135.45" x2="304.28" y2="146.55" stroke="#000" stroke-opacity="0.45" stroke-width="0.6"/><rect x="298.98" y="135.75" width="10.60" height="10.50" fill="none" stroke="#000" stroke-opacity="0.5" stroke-width="0.6"/><rect x="312.39" y="135.95" width="10.20" height="10.10" fill="#d1d3d4" stroke="#3f3f41" stroke-width="1"/><rect x="325.60" y="135.95" width="10.20" height="10.10" fill="#d1d3d4" stroke="#3f3f41" stroke-width="1"/><rect x="338.80" y="135.95" width="10.20" height="10.10" fill="#d1d3d4" stroke="#3f3f41" stroke-width="1"/><rect x="351.51" y="135.45" width="11.20" height="11.10" fill="#c49a6c"/><rect x="351.81" y="135.75" width="10.60" height="10.50" fill="none" stroke="#000" stroke-opacity="0.5" stroke-width="0.6"/><rect x="364.72" y="135.45" width="11.20" height="11.10" fill="#c49a6c"/><rect x="365.02" y="135.75" width="10.60" height="10.50" fill="none" stroke="#000" stroke-opacity="0.5" stroke-width="0.6"/><rect x="378.43" y="135.95" width="10.20" height="10.10" fill="#d1d3d4" stroke="#3f3f41" stroke-width="1"/><rect x="391.13" y="135.45" width="11.20" height="11.10" fill="#c49a6c"/><rect x="391.43" y="135.75" width="10.60" height="10.50" fill="none" stroke="#000" stroke-opacity="0.5" stroke-width="0.6"/><rect x="404.34" y="135.45" width="11.20" height="11.10" fill="#c49a6c"/><rect x="404.64" y="135.75" width="10.60" height="10.50" fill="none" stroke="#000" stroke-opacity="0.5" stroke-width="0.6"/><rect x="417.55" y="135.45" width="11.20" height="11.10" fill="#27aae1"/><rect x="417.85" y="135.75" width="10.60" height="10.50" fill="none" stroke="#000" stroke-opacity="0.5" stroke-width="0.6"/><rect x="431.25" y="135.95" width="10.20" height="10.10" fill="#d1d3d4" stroke="#3f3f41" stroke-width="1"/><rect x="444.46" y="135.95" width="10.20" height="10.10" fill="#d1d3d4" stroke="#3f3f41" stroke-width="1"/><rect x="457.17" y="135.45" width="11.20" height="11.10" fill="#c49a6c"/><rect x="457.47" y="135.75" width="10.60" height="10.50" fill="none" stroke="#000" stroke-opacity="0.5" stroke-width="0.6"/><rect x="470.87" y="135.95" width="10.20" height="10.10" fill="#d1d3d4" stroke="#3f3f41" stroke-width="1"/><rect x="484.08" y="135.95" width="10.20" height="10.10" fill="#d1d3d4" stroke="#3f3f41" stroke-width="1"/><rect x="497.29" y="135.95" width="10.20" height="10.10" fill="#d1d3d4" stroke="#3f3f41" stroke-width="1"/><rect x="510.50" y="135.95" width="10.20" height="10.10" fill="#d1d3d4" stroke="#3f3f41" stroke-width="1"/><rect x="523.70" y="135.95" width="10.20" height="10.10" fill="#d1d3d4" stroke="#3f3f41" stroke-width="1"/><rect x="536.91" y="135.95" width="10.20" height="10.10" fill="#d1d3d4" stroke="#3f3f41" stroke-width="1"/><rect x="550.12" y="135.95" width="10.20" height="10.10" fill="#d1d3d4" stroke="#3f3f41" stroke-width="1"/><rect x="563.32" y="135.95" width="10.20" height="10.10" fill="#d1d3d4" stroke="#3f3f41" stroke-width="1"/><rect x="576.03" y="135.45" width="11.20" height="11.10" fill="#00a651"/><rect x="576.33" y="135.75" width="10.60" height="10.50" fill="none" stroke="#000" stroke-opacity="0.5" stroke-width="0.6"/><rect x="589.74" y="135.95" width="10.20" height="10.10" fill="#d1d3d4" stroke="#3f3f41" stroke-width="1"/><rect x="602.94" y="135.95" width="10.20" height="10.10" fill="#d1d3d4" stroke="#3f3f41" stroke-width="1"/><rect x="616.15" y="135.95" width="10.20" height="10.10" fill="#d1d3d4" stroke="#3f3f41" stroke-width="1"/><rect x="628.86" y="135.45" width="11.20" height="11.10" fill="#c49a6c"/><rect x="629.16" y="135.75" width="10.60" height="10.50" fill="none" stroke="#000" stroke-opacity="0.5" stroke-width="0.6"/><rect x="642.07" y="135.45" width="11.20" height="11.10" fill="#c49a6c"/><rect x="642.37" y="135.75" width="10.60" height="10.50" fill="none" stroke="#000" stroke-opacity="0.5" stroke-width="0.6"/><rect x="655.27" y="135.45" width="11.20" height="11.10" fill="#c49a6c"/><rect x="655.57" y="135.75" width="10.60" height="10.50" fill="none" stroke="#000" stroke-opacity="0.5" stroke-width="0.6"/><rect x="668.98" y="135.95" width="10.20" height="10.10" fill="#d1d3d4" stroke="#3f3f41" stroke-width="1"/><rect x="681.69" y="135.45" width="11.20" height="11.10" fill="#c49a6c"/><rect x="681.99" y="135.75" width="10.60" height="10.50" fill="none" stroke="#000" stroke-opacity="0.5" stroke-width="0.6"/><rect x="695.39" y="135.95" width="10.20" height="10.10" fill="#d1d3d4" stroke="#3f3f41" stroke-width="1"/><rect x="708.60" y="135.95" width="10.20" height="10.10" fill="#d1d3d4" stroke="#3f3f41" stroke-width="1"/><rect x="721.81" y="135.95" width="10.20" height="10.10" fill="#d1d3d4" stroke="#3f3f41" stroke-width="1"/><rect x="735.01" y="135.95" width="10.20" height="10.10" fill="#d1d3d4" stroke="#3f3f41" stroke-width="1"/><rect x="748.22" y="135.95" width="10.20" height="10.10" fill="#d1d3d4" stroke="#3f3f41" stroke-width="1"/><rect x="760.93" y="135.45" width="11.20" height="11.10" fill="#c49a6c"/><rect x="761.23" y="135.75" width="10.60" height="10.50" fill="none" stroke="#000" stroke-opacity="0.5" stroke-width="0.6"/><rect x="774.13" y="135.45" width="11.20" height="11.10" fill="#c49a6c"/><rect x="774.43" y="135.75" width="10.60" height="10.50" fill="none" stroke="#000" stroke-opacity="0.5" stroke-width="0.6"/><rect x="48.25" y="150.00" width="10.20" height="10.10" fill="#d1d3d4" stroke="#3f3f41" stroke-width="1"/><rect x="61.46" y="150.00" width="10.20" height="10.10" fill="#d1d3d4" stroke="#3f3f41" stroke-width="1"/><rect x="74.66" y="150.00" width="10.20" height="10.10" fill="#d1d3d4" stroke="#3f3f41" stroke-width="1"/><rect x="87.87" y="150.00" width="10.20" height="10.10" fill="#d1d3d4" stroke="#3f3f41" stroke-width="1"/><rect x="101.08" y="150.00" width="10.20" height="10.10" fill="#d1d3d4" stroke="#3f3f41" stroke-width="1"/><rect x="114.28" y="150.00" width="10.20" height="10.10" fill="#d1d3d4" stroke="#3f3f41" stroke-width="1"/><rect x="127.49" y="150.00" width="10.20" height="10.10" fill="#d1d3d4" stroke="#3f3f41" stroke-width="1"/><rect x="140.70" y="150.00" width="10.20" height="10.10" fill="#d1d3d4" stroke="#3f3f41" stroke-width="1"/><rect x="153.91" y="150.00" width="10.20" height="10.10" fill="#d1d3d4" stroke="#3f3f41" stroke-width="1"/><rect x="167.11" y="150.00" width="10.20" height="10.10" fill="#d1d3d4" stroke="#3f3f41" stroke-width="1"/><rect x="179.82" y="149.50" width="11.20" height="11.10" fill="#27aae1"/><rect x="180.12" y="149.80" width="10.60" height="10.50" fill="none" stroke="#000" stroke-opacity="0.5" stroke-width="0.6"/><rect x="193.03" y="149.50" width="11.20" height="11.10" fill="#7f3f98"/><rect x="193.33" y="149.80" width="10.60" height="10.50" fill="none" stroke="#000" stroke-opacity="0.5" stroke-width="0.6"/><rect x="206.23" y="149.50" width="5.60" height="11.10" fill="#27aae1"/><rect x="211.83" y="149.50" width="5.60" height="11.10" fill="#c49a6c"/><line x1="211.83" y1="149.50" x2="211.83" y2="160.60" stroke="#000" stroke-opacity="0.45" stroke-width="0.6"/><rect x="206.53" y="149.80" width="10.60" height="10.50" fill="none" stroke="#000" stroke-opacity="0.5" stroke-width="0.6"/><rect x="219.94" y="150.00" width="10.20" height="10.10" fill="#d1d3d4" stroke="#3f3f41" stroke-width="1"/><rect x="233.15" y="150.00" width="10.20" height="10.10" fill="#d1d3d4" stroke="#3f3f41" stroke-width="1"/><rect x="246.36" y="150.00" width="10.20" height="10.10" fill="#d1d3d4" stroke="#3f3f41" stroke-width="1"/><rect x="259.56" y="150.00" width="10.20" height="10.10" fill="#d1d3d4" stroke="#3f3f41" stroke-width="1"/><rect x="272.77" y="150.00" width="10.20" height="10.10" fill="#d1d3d4" stroke="#3f3f41" stroke-width="1"/><rect x="285.98" y="150.00" width="10.20" height="10.10" fill="#d1d3d4" stroke="#3f3f41" stroke-width="1"/><rect x="299.18" y="150.00" width="10.20" height="10.10" fill="#d1d3d4" stroke="#3f3f41" stroke-width="1"/><rect x="312.39" y="150.00" width="10.20" height="10.10" fill="#d1d3d4" stroke="#3f3f41" stroke-width="1"/><rect x="325.60" y="150.00" width="10.20" height="10.10" fill="#d1d3d4" stroke="#3f3f41" stroke-width="1"/><rect x="338.80" y="150.00" width="10.20" height="10.10" fill="#d1d3d4" stroke="#3f3f41" stroke-width="1"/><rect x="352.01" y="150.00" width="10.20" height="10.10" fill="#d1d3d4" stroke="#3f3f41" stroke-width="1"/><rect x="364.72" y="149.50" width="11.20" height="11.10" fill="#c49a6c"/><rect x="365.02" y="149.80" width="10.60" height="10.50" fill="none" stroke="#000" stroke-opacity="0.5" stroke-width="0.6"/><rect x="378.43" y="150.00" width="10.20" height="10.10" fill="#d1d3d4" stroke="#3f3f41" stroke-width="1"/><rect x="391.63" y="150.00" width="10.20" height="10.10" fill="#d1d3d4" stroke="#3f3f41" stroke-width="1"/><rect x="404.84" y="150.00" width="10.20" height="10.10" fill="#d1d3d4" stroke="#3f3f41" stroke-width="1"/><rect x="418.05" y="150.00" width="10.20" height="10.10" fill="#d1d3d4" stroke="#3f3f41" stroke-width="1"/><rect x="431.25" y="150.00" width="10.20" height="10.10" fill="#d1d3d4" stroke="#3f3f41" stroke-width="1"/><rect x="444.46" y="150.00" width="10.20" height="10.10" fill="#d1d3d4" stroke="#3f3f41" stroke-width="1"/><rect x="457.67" y="150.00" width="10.20" height="10.10" fill="#d1d3d4" stroke="#3f3f41" stroke-width="1"/><rect x="470.87" y="150.00" width="10.20" height="10.10" fill="#d1d3d4" stroke="#3f3f41" stroke-width="1"/><rect x="484.08" y="150.00" width="10.20" height="10.10" fill="#d1d3d4" stroke="#3f3f41" stroke-width="1"/><rect x="497.29" y="150.00" width="10.20" height="10.10" fill="#d1d3d4" stroke="#3f3f41" stroke-width="1"/><rect x="510.50" y="150.00" width="10.20" height="10.10" fill="#d1d3d4" stroke="#3f3f41" stroke-width="1"/><rect x="523.70" y="150.00" width="10.20" height="10.10" fill="#d1d3d4" stroke="#3f3f41" stroke-width="1"/><rect x="536.91" y="150.00" width="10.20" height="10.10" fill="#d1d3d4" stroke="#3f3f41" stroke-width="1"/><rect x="550.12" y="150.00" width="10.20" height="10.10" fill="#d1d3d4" stroke="#3f3f41" stroke-width="1"/><rect x="563.32" y="150.00" width="10.20" height="10.10" fill="#d1d3d4" stroke="#3f3f41" stroke-width="1"/><rect x="576.53" y="150.00" width="10.20" height="10.10" fill="#d1d3d4" stroke="#3f3f41" stroke-width="1"/><rect x="589.74" y="150.00" width="10.20" height="10.10" fill="#d1d3d4" stroke="#3f3f41" stroke-width="1"/><rect x="602.94" y="150.00" width="10.20" height="10.10" fill="#d1d3d4" stroke="#3f3f41" stroke-width="1"/><rect x="616.15" y="150.00" width="10.20" height="10.10" fill="#d1d3d4" stroke="#3f3f41" stroke-width="1"/><rect x="629.36" y="150.00" width="10.20" height="10.10" fill="#d1d3d4" stroke="#3f3f41" stroke-width="1"/><rect x="642.57" y="150.00" width="10.20" height="10.10" fill="#d1d3d4" stroke="#3f3f41" stroke-width="1"/><rect x="655.77" y="150.00" width="10.20" height="10.10" fill="#d1d3d4" stroke="#3f3f41" stroke-width="1"/><rect x="668.98" y="150.00" width="10.20" height="10.10" fill="#d1d3d4" stroke="#3f3f41" stroke-width="1"/><rect x="682.19" y="150.00" width="10.20" height="10.10" fill="#d1d3d4" stroke="#3f3f41" stroke-width="1"/><rect x="695.39" y="150.00" width="10.20" height="10.10" fill="#d1d3d4" stroke="#3f3f41" stroke-width="1"/><rect x="708.60" y="150.00" width="10.20" height="10.10" fill="#d1d3d4" stroke="#3f3f41" stroke-width="1"/><rect x="721.81" y="150.00" width="10.20" height="10.10" fill="#d1d3d4" stroke="#3f3f41" stroke-width="1"/><rect x="735.01" y="150.00" width="10.20" height="10.10" fill="#d1d3d4" stroke="#3f3f41" stroke-width="1"/><rect x="748.22" y="150.00" width="10.20" height="10.10" fill="#d1d3d4" stroke="#3f3f41" stroke-width="1"/><rect x="761.43" y="150.00" width="10.20" height="10.10" fill="#d1d3d4" stroke="#3f3f41" stroke-width="1"/><rect x="774.63" y="150.00" width="10.20" height="10.10" fill="#d1d3d4" stroke="#3f3f41" stroke-width="1"/><rect x="48.25" y="164.05" width="10.20" height="10.10" fill="#d1d3d4" stroke="#3f3f41" stroke-width="1"/><rect x="60.96" y="163.55" width="11.20" height="11.10" fill="#21409a"/><rect x="61.26" y="163.85" width="10.60" height="10.50" fill="none" stroke="#000" stroke-opacity="0.5" stroke-width="0.6"/><rect x="74.66" y="164.05" width="10.20" height="10.10" fill="#d1d3d4" stroke="#3f3f41" stroke-width="1"/><rect x="87.87" y="164.05" width="10.20" height="10.10" fill="#d1d3d4" stroke="#3f3f41" stroke-width="1"/><rect x="101.08" y="164.05" width="10.20" height="10.10" fill="#d1d3d4" stroke="#3f3f41" stroke-width="1"/><rect x="114.28" y="164.05" width="10.20" height="10.10" fill="#d1d3d4" stroke="#3f3f41" stroke-width="1"/><rect x="127.49" y="164.05" width="10.20" height="10.10" fill="#d1d3d4" stroke="#3f3f41" stroke-width="1"/><rect x="140.70" y="164.05" width="10.20" height="10.10" fill="#d1d3d4" stroke="#3f3f41" stroke-width="1"/><rect x="153.91" y="164.05" width="10.20" height="10.10" fill="#d1d3d4" stroke="#3f3f41" stroke-width="1"/><rect x="167.11" y="164.05" width="10.20" height="10.10" fill="#d1d3d4" stroke="#3f3f41" stroke-width="1"/><rect x="180.32" y="164.05" width="10.20" height="10.10" fill="#d1d3d4" stroke="#3f3f41" stroke-width="1"/><rect x="193.53" y="164.05" width="10.20" height="10.10" fill="#d1d3d4" stroke="#3f3f41" stroke-width="1"/><rect x="206.73" y="164.05" width="10.20" height="10.10" fill="#d1d3d4" stroke="#3f3f41" stroke-width="1"/><rect x="219.44" y="163.55" width="11.20" height="11.10" fill="#ed1c24"/><rect x="219.74" y="163.85" width="10.60" height="10.50" fill="none" stroke="#000" stroke-opacity="0.5" stroke-width="0.6"/><rect x="233.15" y="164.05" width="10.20" height="10.10" fill="#d1d3d4" stroke="#3f3f41" stroke-width="1"/><rect x="246.36" y="164.05" width="10.20" height="10.10" fill="#d1d3d4" stroke="#3f3f41" stroke-width="1"/><rect x="259.56" y="164.05" width="10.20" height="10.10" fill="#d1d3d4" stroke="#3f3f41" stroke-width="1"/><rect x="272.77" y="164.05" width="10.20" height="10.10" fill="#d1d3d4" stroke="#3f3f41" stroke-width="1"/><rect x="285.98" y="164.05" width="10.20" height="10.10" fill="#d1d3d4" stroke="#3f3f41" stroke-width="1"/><rect x="299.18" y="164.05" width="10.20" height="10.10" fill="#d1d3d4" stroke="#3f3f41" stroke-width="1"/><rect x="312.39" y="164.05" width="10.20" height="10.10" fill="#d1d3d4" stroke="#3f3f41" stroke-width="1"/><rect x="325.60" y="164.05" width="10.20" height="10.10" fill="#d1d3d4" stroke="#3f3f41" stroke-width="1"/><rect x="338.80" y="164.05" width="10.20" height="10.10" fill="#d1d3d4" stroke="#3f3f41" stroke-width="1"/><rect x="352.01" y="164.05" width="10.20" height="10.10" fill="#d1d3d4" stroke="#3f3f41" stroke-width="1"/><rect x="365.22" y="164.05" width="10.20" height="10.10" fill="#d1d3d4" stroke="#3f3f41" stroke-width="1"/><rect x="378.43" y="164.05" width="10.20" height="10.10" fill="#d1d3d4" stroke="#3f3f41" stroke-width="1"/><rect x="391.63" y="164.05" width="10.20" height="10.10" fill="#d1d3d4" stroke="#3f3f41" stroke-width="1"/><rect x="404.84" y="164.05" width="10.20" height="10.10" fill="#d1d3d4" stroke="#3f3f41" stroke-width="1"/><rect x="418.05" y="164.05" width="10.20" height="10.10" fill="#d1d3d4" stroke="#3f3f41" stroke-width="1"/><rect x="431.25" y="164.05" width="10.20" height="10.10" fill="#d1d3d4" stroke="#3f3f41" stroke-width="1"/><rect x="444.46" y="164.05" width="10.20" height="10.10" fill="#d1d3d4" stroke="#3f3f41" stroke-width="1"/><rect x="457.67" y="164.05" width="10.20" height="10.10" fill="#d1d3d4" stroke="#3f3f41" stroke-width="1"/><rect x="470.87" y="164.05" width="10.20" height="10.10" fill="#d1d3d4" stroke="#3f3f41" stroke-width="1"/><rect x="484.08" y="164.05" width="10.20" height="10.10" fill="#d1d3d4" stroke="#3f3f41" stroke-width="1"/><rect x="497.29" y="164.05" width="10.20" height="10.10" fill="#d1d3d4" stroke="#3f3f41" stroke-width="1"/><rect x="510.50" y="164.05" width="10.20" height="10.10" fill="#d1d3d4" stroke="#3f3f41" stroke-width="1"/><rect x="523.70" y="164.05" width="10.20" height="10.10" fill="#d1d3d4" stroke="#3f3f41" stroke-width="1"/><rect x="536.91" y="164.05" width="10.20" height="10.10" fill="#d1d3d4" stroke="#3f3f41" stroke-width="1"/><rect x="549.62" y="163.55" width="11.20" height="11.10" fill="#c49a6c"/><rect x="549.92" y="163.85" width="10.60" height="10.50" fill="none" stroke="#000" stroke-opacity="0.5" stroke-width="0.6"/><rect x="563.32" y="164.05" width="10.20" height="10.10" fill="#d1d3d4" stroke="#3f3f41" stroke-width="1"/><rect x="576.03" y="163.55" width="11.20" height="11.10" fill="#00a651"/><rect x="576.33" y="163.85" width="10.60" height="10.50" fill="none" stroke="#000" stroke-opacity="0.5" stroke-width="0.6"/><rect x="589.24" y="163.55" width="11.20" height="11.10" fill="#c49a6c"/><rect x="589.54" y="163.85" width="10.60" height="10.50" fill="none" stroke="#000" stroke-opacity="0.5" stroke-width="0.6"/><rect x="602.94" y="164.05" width="10.20" height="10.10" fill="#d1d3d4" stroke="#3f3f41" stroke-width="1"/><rect x="616.15" y="164.05" width="10.20" height="10.10" fill="#d1d3d4" stroke="#3f3f41" stroke-width="1"/><rect x="629.36" y="164.05" width="10.20" height="10.10" fill="#d1d3d4" stroke="#3f3f41" stroke-width="1"/><rect x="642.57" y="164.05" width="10.20" height="10.10" fill="#d1d3d4" stroke="#3f3f41" stroke-width="1"/><rect x="655.77" y="164.05" width="10.20" height="10.10" fill="#d1d3d4" stroke="#3f3f41" stroke-width="1"/><rect x="668.98" y="164.05" width="10.20" height="10.10" fill="#d1d3d4" stroke="#3f3f41" stroke-width="1"/><rect x="682.19" y="164.05" width="10.20" height="10.10" fill="#d1d3d4" stroke="#3f3f41" stroke-width="1"/><rect x="695.39" y="164.05" width="10.20" height="10.10" fill="#d1d3d4" stroke="#3f3f41" stroke-width="1"/><rect x="708.60" y="164.05" width="10.20" height="10.10" fill="#d1d3d4" stroke="#3f3f41" stroke-width="1"/><rect x="721.81" y="164.05" width="10.20" height="10.10" fill="#d1d3d4" stroke="#3f3f41" stroke-width="1"/><rect x="735.01" y="164.05" width="10.20" height="10.10" fill="#d1d3d4" stroke="#3f3f41" stroke-width="1"/><rect x="747.72" y="163.55" width="11.20" height="11.10" fill="#c49a6c"/><rect x="748.02" y="163.85" width="10.60" height="10.50" fill="none" stroke="#000" stroke-opacity="0.5" stroke-width="0.6"/><rect x="761.43" y="164.05" width="10.20" height="10.10" fill="#d1d3d4" stroke="#3f3f41" stroke-width="1"/><rect x="774.63" y="164.05" width="10.20" height="10.10" fill="#d1d3d4" stroke="#3f3f41" stroke-width="1"/><rect x="48.25" y="178.10" width="10.20" height="10.10" fill="#d1d3d4" stroke="#3f3f41" stroke-width="1"/><rect x="61.46" y="178.10" width="10.20" height="10.10" fill="#d1d3d4" stroke="#3f3f41" stroke-width="1"/><rect x="74.66" y="178.10" width="10.20" height="10.10" fill="#d1d3d4" stroke="#3f3f41" stroke-width="1"/><rect x="87.87" y="178.10" width="10.20" height="10.10" fill="#d1d3d4" stroke="#3f3f41" stroke-width="1"/><rect x="101.08" y="178.10" width="10.20" height="10.10" fill="#d1d3d4" stroke="#3f3f41" stroke-width="1"/><rect x="114.28" y="178.10" width="10.20" height="10.10" fill="#d1d3d4" stroke="#3f3f41" stroke-width="1"/><rect x="127.49" y="178.10" width="10.20" height="10.10" fill="#d1d3d4" stroke="#3f3f41" stroke-width="1"/><rect x="140.70" y="178.10" width="10.20" height="10.10" fill="#d1d3d4" stroke="#3f3f41" stroke-width="1"/><rect x="153.91" y="178.10" width="10.20" height="10.10" fill="#d1d3d4" stroke="#3f3f41" stroke-width="1"/><rect x="167.11" y="178.10" width="10.20" height="10.10" fill="#d1d3d4" stroke="#3f3f41" stroke-width="1"/><rect x="179.82" y="177.60" width="11.20" height="11.10" fill="#ed1c24"/><rect x="180.12" y="177.90" width="10.60" height="10.50" fill="none" stroke="#000" stroke-opacity="0.5" stroke-width="0.6"/><rect x="193.03" y="177.60" width="11.20" height="11.10" fill="#c49a6c"/><rect x="193.33" y="177.90" width="10.60" height="10.50" fill="none" stroke="#000" stroke-opacity="0.5" stroke-width="0.6"/><rect x="206.73" y="178.10" width="10.20" height="10.10" fill="#d1d3d4" stroke="#3f3f41" stroke-width="1"/><rect x="219.94" y="178.10" width="10.20" height="10.10" fill="#d1d3d4" stroke="#3f3f41" stroke-width="1"/><rect x="233.15" y="178.10" width="10.20" height="10.10" fill="#d1d3d4" stroke="#3f3f41" stroke-width="1"/><rect x="246.36" y="178.10" width="10.20" height="10.10" fill="#d1d3d4" stroke="#3f3f41" stroke-width="1"/><rect x="259.56" y="178.10" width="10.20" height="10.10" fill="#d1d3d4" stroke="#3f3f41" stroke-width="1"/><rect x="272.77" y="178.10" width="10.20" height="10.10" fill="#d1d3d4" stroke="#3f3f41" stroke-width="1"/><rect x="285.98" y="178.10" width="10.20" height="10.10" fill="#d1d3d4" stroke="#3f3f41" stroke-width="1"/><rect x="299.18" y="178.10" width="10.20" height="10.10" fill="#d1d3d4" stroke="#3f3f41" stroke-width="1"/><rect x="312.39" y="178.10" width="10.20" height="10.10" fill="#d1d3d4" stroke="#3f3f41" stroke-width="1"/><rect x="325.60" y="178.10" width="10.20" height="10.10" fill="#d1d3d4" stroke="#3f3f41" stroke-width="1"/><rect x="338.80" y="178.10" width="10.20" height="10.10" fill="#d1d3d4" stroke="#3f3f41" stroke-width="1"/><rect x="351.51" y="177.60" width="11.20" height="11.10" fill="#c49a6c"/><rect x="351.81" y="177.90" width="10.60" height="10.50" fill="none" stroke="#000" stroke-opacity="0.5" stroke-width="0.6"/><rect x="365.22" y="178.10" width="10.20" height="10.10" fill="#d1d3d4" stroke="#3f3f41" stroke-width="1"/><rect x="378.43" y="178.10" width="10.20" height="10.10" fill="#d1d3d4" stroke="#3f3f41" stroke-width="1"/><rect x="391.63" y="178.10" width="10.20" height="10.10" fill="#d1d3d4" stroke="#3f3f41" stroke-width="1"/><rect x="404.84" y="178.10" width="10.20" height="10.10" fill="#d1d3d4" stroke="#3f3f41" stroke-width="1"/><rect x="418.05" y="178.10" width="10.20" height="10.10" fill="#d1d3d4" stroke="#3f3f41" stroke-width="1"/><rect x="430.75" y="177.60" width="11.20" height="11.10" fill="#c49a6c"/><rect x="431.05" y="177.90" width="10.60" height="10.50" fill="none" stroke="#000" stroke-opacity="0.5" stroke-width="0.6"/><rect x="444.46" y="178.10" width="10.20" height="10.10" fill="#d1d3d4" stroke="#3f3f41" stroke-width="1"/><rect x="457.67" y="178.10" width="10.20" height="10.10" fill="#d1d3d4" stroke="#3f3f41" stroke-width="1"/><rect x="470.87" y="178.10" width="10.20" height="10.10" fill="#d1d3d4" stroke="#3f3f41" stroke-width="1"/><rect x="484.08" y="178.10" width="10.20" height="10.10" fill="#d1d3d4" stroke="#3f3f41" stroke-width="1"/><rect x="497.29" y="178.10" width="10.20" height="10.10" fill="#d1d3d4" stroke="#3f3f41" stroke-width="1"/><rect x="510.50" y="178.10" width="10.20" height="10.10" fill="#d1d3d4" stroke="#3f3f41" stroke-width="1"/><rect x="523.70" y="178.10" width="10.20" height="10.10" fill="#d1d3d4" stroke="#3f3f41" stroke-width="1"/><rect x="536.91" y="178.10" width="10.20" height="10.10" fill="#d1d3d4" stroke="#3f3f41" stroke-width="1"/><rect x="550.12" y="178.10" width="10.20" height="10.10" fill="#d1d3d4" stroke="#3f3f41" stroke-width="1"/><rect x="563.32" y="178.10" width="10.20" height="10.10" fill="#d1d3d4" stroke="#3f3f41" stroke-width="1"/><rect x="576.03" y="177.60" width="11.20" height="11.10" fill="#00a651"/><rect x="576.33" y="177.90" width="10.60" height="10.50" fill="none" stroke="#000" stroke-opacity="0.5" stroke-width="0.6"/><rect x="589.74" y="178.10" width="10.20" height="10.10" fill="#d1d3d4" stroke="#3f3f41" stroke-width="1"/><rect x="602.94" y="178.10" width="10.20" height="10.10" fill="#d1d3d4" stroke="#3f3f41" stroke-width="1"/><rect x="616.15" y="178.10" width="10.20" height="10.10" fill="#d1d3d4" stroke="#3f3f41" stroke-width="1"/><rect x="629.36" y="178.10" width="10.20" height="10.10" fill="#d1d3d4" stroke="#3f3f41" stroke-width="1"/><rect x="642.57" y="178.10" width="10.20" height="10.10" fill="#d1d3d4" stroke="#3f3f41" stroke-width="1"/><rect x="655.77" y="178.10" width="10.20" height="10.10" fill="#d1d3d4" stroke="#3f3f41" stroke-width="1"/><rect x="668.98" y="178.10" width="10.20" height="10.10" fill="#d1d3d4" stroke="#3f3f41" stroke-width="1"/><rect x="682.19" y="178.10" width="10.20" height="10.10" fill="#d1d3d4" stroke="#3f3f41" stroke-width="1"/><rect x="695.39" y="178.10" width="10.20" height="10.10" fill="#d1d3d4" stroke="#3f3f41" stroke-width="1"/><rect x="708.60" y="178.10" width="10.20" height="10.10" fill="#d1d3d4" stroke="#3f3f41" stroke-width="1"/><rect x="721.81" y="178.10" width="10.20" height="10.10" fill="#d1d3d4" stroke="#3f3f41" stroke-width="1"/><rect x="735.01" y="178.10" width="10.20" height="10.10" fill="#d1d3d4" stroke="#3f3f41" stroke-width="1"/><rect x="748.22" y="178.10" width="10.20" height="10.10" fill="#d1d3d4" stroke="#3f3f41" stroke-width="1"/><rect x="761.43" y="178.10" width="10.20" height="10.10" fill="#d1d3d4" stroke="#3f3f41" stroke-width="1"/><rect x="774.63" y="178.10" width="10.20" height="10.10" fill="#d1d3d4" stroke="#3f3f41" stroke-width="1"/><rect x="48.25" y="192.15" width="10.20" height="10.10" fill="#d1d3d4" stroke="#3f3f41" stroke-width="1"/><rect x="61.46" y="192.15" width="10.20" height="10.10" fill="#d1d3d4" stroke="#3f3f41" stroke-width="1"/><rect x="74.16" y="191.65" width="11.20" height="11.10" fill="#27aae1"/><rect x="74.46" y="191.95" width="10.60" height="10.50" fill="none" stroke="#000" stroke-opacity="0.5" stroke-width="0.6"/><rect x="87.37" y="191.65" width="11.20" height="11.10" fill="#27aae1"/><rect x="87.67" y="191.95" width="10.60" height="10.50" fill="none" stroke="#000" stroke-opacity="0.5" stroke-width="0.6"/><rect x="101.08" y="192.15" width="10.20" height="10.10" fill="#d1d3d4" stroke="#3f3f41" stroke-width="1"/><rect x="114.28" y="192.15" width="10.20" height="10.10" fill="#d1d3d4" stroke="#3f3f41" stroke-width="1"/><rect x="127.49" y="192.15" width="10.20" height="10.10" fill="#d1d3d4" stroke="#3f3f41" stroke-width="1"/><rect x="140.70" y="192.15" width="10.20" height="10.10" fill="#d1d3d4" stroke="#3f3f41" stroke-width="1"/><rect x="153.91" y="192.15" width="10.20" height="10.10" fill="#d1d3d4" stroke="#3f3f41" stroke-width="1"/><rect x="167.11" y="192.15" width="10.20" height="10.10" fill="#d1d3d4" stroke="#3f3f41" stroke-width="1"/><rect x="180.32" y="192.15" width="10.20" height="10.10" fill="#d1d3d4" stroke="#3f3f41" stroke-width="1"/><rect x="193.53" y="192.15" width="10.20" height="10.10" fill="#d1d3d4" stroke="#3f3f41" stroke-width="1"/><rect x="206.73" y="192.15" width="10.20" height="10.10" fill="#d1d3d4" stroke="#3f3f41" stroke-width="1"/><rect x="219.94" y="192.15" width="10.20" height="10.10" fill="#d1d3d4" stroke="#3f3f41" stroke-width="1"/><rect x="233.15" y="192.15" width="10.20" height="10.10" fill="#d1d3d4" stroke="#3f3f41" stroke-width="1"/><rect x="246.36" y="192.15" width="10.20" height="10.10" fill="#d1d3d4" stroke="#3f3f41" stroke-width="1"/><rect x="259.56" y="192.15" width="10.20" height="10.10" fill="#d1d3d4" stroke="#3f3f41" stroke-width="1"/><rect x="272.77" y="192.15" width="10.20" height="10.10" fill="#d1d3d4" stroke="#3f3f41" stroke-width="1"/><rect x="285.48" y="191.65" width="11.20" height="11.10" fill="#27aae1"/><rect x="285.78" y="191.95" width="10.60" height="10.50" fill="none" stroke="#000" stroke-opacity="0.5" stroke-width="0.6"/><rect x="299.18" y="192.15" width="10.20" height="10.10" fill="#d1d3d4" stroke="#3f3f41" stroke-width="1"/><rect x="312.39" y="192.15" width="10.20" height="10.10" fill="#d1d3d4" stroke="#3f3f41" stroke-width="1"/><rect x="325.60" y="192.15" width="10.20" height="10.10" fill="#d1d3d4" stroke="#3f3f41" stroke-width="1"/><rect x="338.80" y="192.15" width="10.20" height="10.10" fill="#d1d3d4" stroke="#3f3f41" stroke-width="1"/><rect x="352.01" y="192.15" width="10.20" height="10.10" fill="#d1d3d4" stroke="#3f3f41" stroke-width="1"/><rect x="365.22" y="192.15" width="10.20" height="10.10" fill="#d1d3d4" stroke="#3f3f41" stroke-width="1"/><rect x="378.43" y="192.15" width="10.20" height="10.10" fill="#d1d3d4" stroke="#3f3f41" stroke-width="1"/><rect x="391.63" y="192.15" width="10.20" height="10.10" fill="#d1d3d4" stroke="#3f3f41" stroke-width="1"/><rect x="404.84" y="192.15" width="10.20" height="10.10" fill="#d1d3d4" stroke="#3f3f41" stroke-width="1"/><rect x="418.05" y="192.15" width="10.20" height="10.10" fill="#d1d3d4" stroke="#3f3f41" stroke-width="1"/><rect x="430.75" y="191.65" width="11.20" height="11.10" fill="#c49a6c"/><rect x="431.05" y="191.95" width="10.60" height="10.50" fill="none" stroke="#000" stroke-opacity="0.5" stroke-width="0.6"/><rect x="444.46" y="192.15" width="10.20" height="10.10" fill="#d1d3d4" stroke="#3f3f41" stroke-width="1"/><rect x="457.67" y="192.15" width="10.20" height="10.10" fill="#d1d3d4" stroke="#3f3f41" stroke-width="1"/><rect x="470.87" y="192.15" width="10.20" height="10.10" fill="#d1d3d4" stroke="#3f3f41" stroke-width="1"/><rect x="484.08" y="192.15" width="10.20" height="10.10" fill="#d1d3d4" stroke="#3f3f41" stroke-width="1"/><rect x="497.29" y="192.15" width="10.20" height="10.10" fill="#d1d3d4" stroke="#3f3f41" stroke-width="1"/><rect x="510.50" y="192.15" width="10.20" height="10.10" fill="#d1d3d4" stroke="#3f3f41" stroke-width="1"/><rect x="523.70" y="192.15" width="10.20" height="10.10" fill="#d1d3d4" stroke="#3f3f41" stroke-width="1"/><rect x="536.91" y="192.15" width="10.20" height="10.10" fill="#d1d3d4" stroke="#3f3f41" stroke-width="1"/><rect x="550.12" y="192.15" width="10.20" height="10.10" fill="#d1d3d4" stroke="#3f3f41" stroke-width="1"/><rect x="563.32" y="192.15" width="10.20" height="10.10" fill="#d1d3d4" stroke="#3f3f41" stroke-width="1"/><rect x="576.53" y="192.15" width="10.20" height="10.10" fill="#d1d3d4" stroke="#3f3f41" stroke-width="1"/><rect x="589.74" y="192.15" width="10.20" height="10.10" fill="#d1d3d4" stroke="#3f3f41" stroke-width="1"/><rect x="602.94" y="192.15" width="10.20" height="10.10" fill="#d1d3d4" stroke="#3f3f41" stroke-width="1"/><rect x="616.15" y="192.15" width="10.20" height="10.10" fill="#d1d3d4" stroke="#3f3f41" stroke-width="1"/><rect x="629.36" y="192.15" width="10.20" height="10.10" fill="#d1d3d4" stroke="#3f3f41" stroke-width="1"/><rect x="642.57" y="192.15" width="10.20" height="10.10" fill="#d1d3d4" stroke="#3f3f41" stroke-width="1"/><rect x="655.77" y="192.15" width="10.20" height="10.10" fill="#d1d3d4" stroke="#3f3f41" stroke-width="1"/><rect x="668.98" y="192.15" width="10.20" height="10.10" fill="#d1d3d4" stroke="#3f3f41" stroke-width="1"/><rect x="682.19" y="192.15" width="10.20" height="10.10" fill="#d1d3d4" stroke="#3f3f41" stroke-width="1"/><rect x="695.39" y="192.15" width="10.20" height="10.10" fill="#d1d3d4" stroke="#3f3f41" stroke-width="1"/><rect x="708.60" y="192.15" width="10.20" height="10.10" fill="#d1d3d4" stroke="#3f3f41" stroke-width="1"/><rect x="721.81" y="192.15" width="10.20" height="10.10" fill="#d1d3d4" stroke="#3f3f41" stroke-width="1"/><rect x="735.01" y="192.15" width="10.20" height="10.10" fill="#d1d3d4" stroke="#3f3f41" stroke-width="1"/><rect x="748.22" y="192.15" width="10.20" height="10.10" fill="#d1d3d4" stroke="#3f3f41" stroke-width="1"/><rect x="761.43" y="192.15" width="10.20" height="10.10" fill="#d1d3d4" stroke="#3f3f41" stroke-width="1"/><rect x="774.63" y="192.15" width="10.20" height="10.10" fill="#d1d3d4" stroke="#3f3f41" stroke-width="1"/><rect x="48.25" y="206.20" width="10.20" height="10.10" fill="#d1d3d4" stroke="#3f3f41" stroke-width="1"/><rect x="61.46" y="206.20" width="10.20" height="10.10" fill="#d1d3d4" stroke="#3f3f41" stroke-width="1"/><rect x="74.66" y="206.20" width="10.20" height="10.10" fill="#d1d3d4" stroke="#3f3f41" stroke-width="1"/><rect x="87.87" y="206.20" width="10.20" height="10.10" fill="#d1d3d4" stroke="#3f3f41" stroke-width="1"/><rect x="101.08" y="206.20" width="10.20" height="10.10" fill="#d1d3d4" stroke="#3f3f41" stroke-width="1"/><rect x="114.28" y="206.20" width="10.20" height="10.10" fill="#d1d3d4" stroke="#3f3f41" stroke-width="1"/><rect x="127.49" y="206.20" width="10.20" height="10.10" fill="#d1d3d4" stroke="#3f3f41" stroke-width="1"/><rect x="140.70" y="206.20" width="10.20" height="10.10" fill="#d1d3d4" stroke="#3f3f41" stroke-width="1"/><rect x="153.91" y="206.20" width="10.20" height="10.10" fill="#d1d3d4" stroke="#3f3f41" stroke-width="1"/><rect x="167.11" y="206.20" width="10.20" height="10.10" fill="#d1d3d4" stroke="#3f3f41" stroke-width="1"/><rect x="180.32" y="206.20" width="10.20" height="10.10" fill="#d1d3d4" stroke="#3f3f41" stroke-width="1"/><rect x="193.53" y="206.20" width="10.20" height="10.10" fill="#d1d3d4" stroke="#3f3f41" stroke-width="1"/><rect x="206.73" y="206.20" width="10.20" height="10.10" fill="#d1d3d4" stroke="#3f3f41" stroke-width="1"/><rect x="219.94" y="206.20" width="10.20" height="10.10" fill="#d1d3d4" stroke="#3f3f41" stroke-width="1"/><rect x="233.15" y="206.20" width="10.20" height="10.10" fill="#d1d3d4" stroke="#3f3f41" stroke-width="1"/><rect x="246.36" y="206.20" width="10.20" height="10.10" fill="#d1d3d4" stroke="#3f3f41" stroke-width="1"/><rect x="259.56" y="206.20" width="10.20" height="10.10" fill="#d1d3d4" stroke="#3f3f41" stroke-width="1"/><rect x="272.77" y="206.20" width="10.20" height="10.10" fill="#d1d3d4" stroke="#3f3f41" stroke-width="1"/><rect x="285.98" y="206.20" width="10.20" height="10.10" fill="#d1d3d4" stroke="#3f3f41" stroke-width="1"/><rect x="299.18" y="206.20" width="10.20" height="10.10" fill="#d1d3d4" stroke="#3f3f41" stroke-width="1"/><rect x="312.39" y="206.20" width="10.20" height="10.10" fill="#d1d3d4" stroke="#3f3f41" stroke-width="1"/><rect x="325.60" y="206.20" width="10.20" height="10.10" fill="#d1d3d4" stroke="#3f3f41" stroke-width="1"/><rect x="338.80" y="206.20" width="10.20" height="10.10" fill="#d1d3d4" stroke="#3f3f41" stroke-width="1"/><rect x="351.51" y="205.70" width="11.20" height="11.10" fill="#27aae1"/><rect x="351.81" y="206.00" width="10.60" height="10.50" fill="none" stroke="#000" stroke-opacity="0.5" stroke-width="0.6"/><rect x="365.22" y="206.20" width="10.20" height="10.10" fill="#d1d3d4" stroke="#3f3f41" stroke-width="1"/><rect x="378.43" y="206.20" width="10.20" height="10.10" fill="#d1d3d4" stroke="#3f3f41" stroke-width="1"/><rect x="391.63" y="206.20" width="10.20" height="10.10" fill="#d1d3d4" stroke="#3f3f41" stroke-width="1"/><rect x="404.84" y="206.20" width="10.20" height="10.10" fill="#d1d3d4" stroke="#3f3f41" stroke-width="1"/><rect x="418.05" y="206.20" width="10.20" height="10.10" fill="#d1d3d4" stroke="#3f3f41" stroke-width="1"/><rect x="431.25" y="206.20" width="10.20" height="10.10" fill="#d1d3d4" stroke="#3f3f41" stroke-width="1"/><rect x="444.46" y="206.20" width="10.20" height="10.10" fill="#d1d3d4" stroke="#3f3f41" stroke-width="1"/><rect x="457.67" y="206.20" width="10.20" height="10.10" fill="#d1d3d4" stroke="#3f3f41" stroke-width="1"/><rect x="470.87" y="206.20" width="10.20" height="10.10" fill="#d1d3d4" stroke="#3f3f41" stroke-width="1"/><rect x="484.08" y="206.20" width="10.20" height="10.10" fill="#d1d3d4" stroke="#3f3f41" stroke-width="1"/><rect x="497.29" y="206.20" width="10.20" height="10.10" fill="#d1d3d4" stroke="#3f3f41" stroke-width="1"/><rect x="510.50" y="206.20" width="10.20" height="10.10" fill="#d1d3d4" stroke="#3f3f41" stroke-width="1"/><rect x="523.70" y="206.20" width="10.20" height="10.10" fill="#d1d3d4" stroke="#3f3f41" stroke-width="1"/><rect x="536.91" y="206.20" width="10.20" height="10.10" fill="#d1d3d4" stroke="#3f3f41" stroke-width="1"/><rect x="550.12" y="206.20" width="10.20" height="10.10" fill="#d1d3d4" stroke="#3f3f41" stroke-width="1"/><rect x="563.32" y="206.20" width="10.20" height="10.10" fill="#d1d3d4" stroke="#3f3f41" stroke-width="1"/><rect x="576.53" y="206.20" width="10.20" height="10.10" fill="#d1d3d4" stroke="#3f3f41" stroke-width="1"/><rect x="589.74" y="206.20" width="10.20" height="10.10" fill="#d1d3d4" stroke="#3f3f41" stroke-width="1"/><rect x="602.94" y="206.20" width="10.20" height="10.10" fill="#d1d3d4" stroke="#3f3f41" stroke-width="1"/><rect x="616.15" y="206.20" width="10.20" height="10.10" fill="#d1d3d4" stroke="#3f3f41" stroke-width="1"/><rect x="629.36" y="206.20" width="10.20" height="10.10" fill="#d1d3d4" stroke="#3f3f41" stroke-width="1"/><rect x="642.57" y="206.20" width="10.20" height="10.10" fill="#d1d3d4" stroke="#3f3f41" stroke-width="1"/><rect x="655.77" y="206.20" width="10.20" height="10.10" fill="#d1d3d4" stroke="#3f3f41" stroke-width="1"/><rect x="668.98" y="206.20" width="10.20" height="10.10" fill="#d1d3d4" stroke="#3f3f41" stroke-width="1"/><rect x="682.19" y="206.20" width="10.20" height="10.10" fill="#d1d3d4" stroke="#3f3f41" stroke-width="1"/><rect x="695.39" y="206.20" width="10.20" height="10.10" fill="#d1d3d4" stroke="#3f3f41" stroke-width="1"/><rect x="708.60" y="206.20" width="10.20" height="10.10" fill="#d1d3d4" stroke="#3f3f41" stroke-width="1"/><rect x="721.81" y="206.20" width="10.20" height="10.10" fill="#d1d3d4" stroke="#3f3f41" stroke-width="1"/><rect x="735.01" y="206.20" width="10.20" height="10.10" fill="#d1d3d4" stroke="#3f3f41" stroke-width="1"/><rect x="748.22" y="206.20" width="10.20" height="10.10" fill="#d1d3d4" stroke="#3f3f41" stroke-width="1"/><rect x="761.43" y="206.20" width="10.20" height="10.10" fill="#d1d3d4" stroke="#3f3f41" stroke-width="1"/><rect x="774.63" y="206.20" width="10.20" height="10.10" fill="#d1d3d4" stroke="#3f3f41" stroke-width="1"/><rect x="48.25" y="220.25" width="10.20" height="10.10" fill="#d1d3d4" stroke="#3f3f41" stroke-width="1"/><rect x="61.46" y="220.25" width="10.20" height="10.10" fill="#d1d3d4" stroke="#3f3f41" stroke-width="1"/><rect x="74.66" y="220.25" width="10.20" height="10.10" fill="#d1d3d4" stroke="#3f3f41" stroke-width="1"/><rect x="87.87" y="220.25" width="10.20" height="10.10" fill="#d1d3d4" stroke="#3f3f41" stroke-width="1"/><rect x="101.08" y="220.25" width="10.20" height="10.10" fill="#d1d3d4" stroke="#3f3f41" stroke-width="1"/><rect x="114.28" y="220.25" width="10.20" height="10.10" fill="#d1d3d4" stroke="#3f3f41" stroke-width="1"/><rect x="126.99" y="219.75" width="11.20" height="11.10" fill="#ed1c24"/><rect x="127.29" y="220.05" width="10.60" height="10.50" fill="none" stroke="#000" stroke-opacity="0.5" stroke-width="0.6"/><rect x="140.70" y="220.25" width="10.20" height="10.10" fill="#d1d3d4" stroke="#3f3f41" stroke-width="1"/><rect x="153.91" y="220.25" width="10.20" height="10.10" fill="#d1d3d4" stroke="#3f3f41" stroke-width="1"/><rect x="167.11" y="220.25" width="10.20" height="10.10" fill="#d1d3d4" stroke="#3f3f41" stroke-width="1"/><rect x="180.32" y="220.25" width="10.20" height="10.10" fill="#d1d3d4" stroke="#3f3f41" stroke-width="1"/><rect x="193.53" y="220.25" width="10.20" height="10.10" fill="#d1d3d4" stroke="#3f3f41" stroke-width="1"/><rect x="206.73" y="220.25" width="10.20" height="10.10" fill="#d1d3d4" stroke="#3f3f41" stroke-width="1"/><rect x="219.94" y="220.25" width="10.20" height="10.10" fill="#d1d3d4" stroke="#3f3f41" stroke-width="1"/><rect x="233.15" y="220.25" width="10.20" height="10.10" fill="#d1d3d4" stroke="#3f3f41" stroke-width="1"/><rect x="246.36" y="220.25" width="10.20" height="10.10" fill="#d1d3d4" stroke="#3f3f41" stroke-width="1"/><rect x="259.56" y="220.25" width="10.20" height="10.10" fill="#d1d3d4" stroke="#3f3f41" stroke-width="1"/><rect x="272.77" y="220.25" width="10.20" height="10.10" fill="#d1d3d4" stroke="#3f3f41" stroke-width="1"/><rect x="285.98" y="220.25" width="10.20" height="10.10" fill="#d1d3d4" stroke="#3f3f41" stroke-width="1"/><rect x="299.18" y="220.25" width="10.20" height="10.10" fill="#d1d3d4" stroke="#3f3f41" stroke-width="1"/><rect x="312.39" y="220.25" width="10.20" height="10.10" fill="#d1d3d4" stroke="#3f3f41" stroke-width="1"/><rect x="325.60" y="220.25" width="10.20" height="10.10" fill="#d1d3d4" stroke="#3f3f41" stroke-width="1"/><rect x="338.80" y="220.25" width="10.20" height="10.10" fill="#d1d3d4" stroke="#3f3f41" stroke-width="1"/><rect x="352.01" y="220.25" width="10.20" height="10.10" fill="#d1d3d4" stroke="#3f3f41" stroke-width="1"/><rect x="365.22" y="220.25" width="10.20" height="10.10" fill="#d1d3d4" stroke="#3f3f41" stroke-width="1"/><rect x="378.43" y="220.25" width="10.20" height="10.10" fill="#d1d3d4" stroke="#3f3f41" stroke-width="1"/><rect x="391.63" y="220.25" width="10.20" height="10.10" fill="#d1d3d4" stroke="#3f3f41" stroke-width="1"/><rect x="404.84" y="220.25" width="10.20" height="10.10" fill="#d1d3d4" stroke="#3f3f41" stroke-width="1"/><rect x="418.05" y="220.25" width="10.20" height="10.10" fill="#d1d3d4" stroke="#3f3f41" stroke-width="1"/><rect x="431.25" y="220.25" width="10.20" height="10.10" fill="#d1d3d4" stroke="#3f3f41" stroke-width="1"/><rect x="444.46" y="220.25" width="10.20" height="10.10" fill="#d1d3d4" stroke="#3f3f41" stroke-width="1"/><rect x="457.67" y="220.25" width="10.20" height="10.10" fill="#d1d3d4" stroke="#3f3f41" stroke-width="1"/><rect x="470.87" y="220.25" width="10.20" height="10.10" fill="#d1d3d4" stroke="#3f3f41" stroke-width="1"/><rect x="484.08" y="220.25" width="10.20" height="10.10" fill="#d1d3d4" stroke="#3f3f41" stroke-width="1"/><rect x="497.29" y="220.25" width="10.20" height="10.10" fill="#d1d3d4" stroke="#3f3f41" stroke-width="1"/><rect x="510.50" y="220.25" width="10.20" height="10.10" fill="#d1d3d4" stroke="#3f3f41" stroke-width="1"/><rect x="523.70" y="220.25" width="10.20" height="10.10" fill="#d1d3d4" stroke="#3f3f41" stroke-width="1"/><rect x="536.91" y="220.25" width="10.20" height="10.10" fill="#d1d3d4" stroke="#3f3f41" stroke-width="1"/><rect x="550.12" y="220.25" width="10.20" height="10.10" fill="#d1d3d4" stroke="#3f3f41" stroke-width="1"/><rect x="563.32" y="220.25" width="10.20" height="10.10" fill="#d1d3d4" stroke="#3f3f41" stroke-width="1"/><rect x="576.53" y="220.25" width="10.20" height="10.10" fill="#d1d3d4" stroke="#3f3f41" stroke-width="1"/><rect x="589.74" y="220.25" width="10.20" height="10.10" fill="#d1d3d4" stroke="#3f3f41" stroke-width="1"/><rect x="602.94" y="220.25" width="10.20" height="10.10" fill="#d1d3d4" stroke="#3f3f41" stroke-width="1"/><rect x="616.15" y="220.25" width="10.20" height="10.10" fill="#d1d3d4" stroke="#3f3f41" stroke-width="1"/><rect x="629.36" y="220.25" width="10.20" height="10.10" fill="#d1d3d4" stroke="#3f3f41" stroke-width="1"/><rect x="642.57" y="220.25" width="10.20" height="10.10" fill="#d1d3d4" stroke="#3f3f41" stroke-width="1"/><rect x="655.77" y="220.25" width="10.20" height="10.10" fill="#d1d3d4" stroke="#3f3f41" stroke-width="1"/><rect x="668.98" y="220.25" width="10.20" height="10.10" fill="#d1d3d4" stroke="#3f3f41" stroke-width="1"/><rect x="682.19" y="220.25" width="10.20" height="10.10" fill="#d1d3d4" stroke="#3f3f41" stroke-width="1"/><rect x="695.39" y="220.25" width="10.20" height="10.10" fill="#d1d3d4" stroke="#3f3f41" stroke-width="1"/><rect x="708.60" y="220.25" width="10.20" height="10.10" fill="#d1d3d4" stroke="#3f3f41" stroke-width="1"/><rect x="721.81" y="220.25" width="10.20" height="10.10" fill="#d1d3d4" stroke="#3f3f41" stroke-width="1"/><rect x="735.01" y="220.25" width="10.20" height="10.10" fill="#d1d3d4" stroke="#3f3f41" stroke-width="1"/><rect x="748.22" y="220.25" width="10.20" height="10.10" fill="#d1d3d4" stroke="#3f3f41" stroke-width="1"/><rect x="761.43" y="220.25" width="10.20" height="10.10" fill="#d1d3d4" stroke="#3f3f41" stroke-width="1"/><rect x="774.63" y="220.25" width="10.20" height="10.10" fill="#d1d3d4" stroke="#3f3f41" stroke-width="1"/><rect x="48.25" y="234.30" width="10.20" height="10.10" fill="#d1d3d4" stroke="#3f3f41" stroke-width="1"/><rect x="61.46" y="234.30" width="10.20" height="10.10" fill="#d1d3d4" stroke="#3f3f41" stroke-width="1"/><rect x="74.66" y="234.30" width="10.20" height="10.10" fill="#d1d3d4" stroke="#3f3f41" stroke-width="1"/><rect x="87.87" y="234.30" width="10.20" height="10.10" fill="#d1d3d4" stroke="#3f3f41" stroke-width="1"/><rect x="101.08" y="234.30" width="10.20" height="10.10" fill="#d1d3d4" stroke="#3f3f41" stroke-width="1"/><rect x="114.28" y="234.30" width="10.20" height="10.10" fill="#d1d3d4" stroke="#3f3f41" stroke-width="1"/><rect x="127.49" y="234.30" width="10.20" height="10.10" fill="#d1d3d4" stroke="#3f3f41" stroke-width="1"/><rect x="140.70" y="234.30" width="10.20" height="10.10" fill="#d1d3d4" stroke="#3f3f41" stroke-width="1"/><rect x="153.91" y="234.30" width="10.20" height="10.10" fill="#d1d3d4" stroke="#3f3f41" stroke-width="1"/><rect x="167.11" y="234.30" width="10.20" height="10.10" fill="#d1d3d4" stroke="#3f3f41" stroke-width="1"/><rect x="180.32" y="234.30" width="10.20" height="10.10" fill="#d1d3d4" stroke="#3f3f41" stroke-width="1"/><rect x="193.53" y="234.30" width="10.20" height="10.10" fill="#d1d3d4" stroke="#3f3f41" stroke-width="1"/><rect x="206.73" y="234.30" width="10.20" height="10.10" fill="#d1d3d4" stroke="#3f3f41" stroke-width="1"/><rect x="219.94" y="234.30" width="10.20" height="10.10" fill="#d1d3d4" stroke="#3f3f41" stroke-width="1"/><rect x="233.15" y="234.30" width="10.20" height="10.10" fill="#d1d3d4" stroke="#3f3f41" stroke-width="1"/><rect x="246.36" y="234.30" width="10.20" height="10.10" fill="#d1d3d4" stroke="#3f3f41" stroke-width="1"/><rect x="259.56" y="234.30" width="10.20" height="10.10" fill="#d1d3d4" stroke="#3f3f41" stroke-width="1"/><rect x="272.77" y="234.30" width="10.20" height="10.10" fill="#d1d3d4" stroke="#3f3f41" stroke-width="1"/><rect x="285.98" y="234.30" width="10.20" height="10.10" fill="#d1d3d4" stroke="#3f3f41" stroke-width="1"/><rect x="299.18" y="234.30" width="10.20" height="10.10" fill="#d1d3d4" stroke="#3f3f41" stroke-width="1"/><rect x="312.39" y="234.30" width="10.20" height="10.10" fill="#d1d3d4" stroke="#3f3f41" stroke-width="1"/><rect x="325.60" y="234.30" width="10.20" height="10.10" fill="#d1d3d4" stroke="#3f3f41" stroke-width="1"/><rect x="338.80" y="234.30" width="10.20" height="10.10" fill="#d1d3d4" stroke="#3f3f41" stroke-width="1"/><rect x="352.01" y="234.30" width="10.20" height="10.10" fill="#d1d3d4" stroke="#3f3f41" stroke-width="1"/><rect x="365.22" y="234.30" width="10.20" height="10.10" fill="#d1d3d4" stroke="#3f3f41" stroke-width="1"/><rect x="378.43" y="234.30" width="10.20" height="10.10" fill="#d1d3d4" stroke="#3f3f41" stroke-width="1"/><rect x="391.63" y="234.30" width="10.20" height="10.10" fill="#d1d3d4" stroke="#3f3f41" stroke-width="1"/><rect x="404.84" y="234.30" width="10.20" height="10.10" fill="#d1d3d4" stroke="#3f3f41" stroke-width="1"/><rect x="418.05" y="234.30" width="10.20" height="10.10" fill="#d1d3d4" stroke="#3f3f41" stroke-width="1"/><rect x="431.25" y="234.30" width="10.20" height="10.10" fill="#d1d3d4" stroke="#3f3f41" stroke-width="1"/><rect x="444.46" y="234.30" width="10.20" height="10.10" fill="#d1d3d4" stroke="#3f3f41" stroke-width="1"/><rect x="457.67" y="234.30" width="10.20" height="10.10" fill="#d1d3d4" stroke="#3f3f41" stroke-width="1"/><rect x="470.87" y="234.30" width="10.20" height="10.10" fill="#d1d3d4" stroke="#3f3f41" stroke-width="1"/><rect x="484.08" y="234.30" width="10.20" height="10.10" fill="#d1d3d4" stroke="#3f3f41" stroke-width="1"/><rect x="497.29" y="234.30" width="10.20" height="10.10" fill="#d1d3d4" stroke="#3f3f41" stroke-width="1"/><rect x="510.50" y="234.30" width="10.20" height="10.10" fill="#d1d3d4" stroke="#3f3f41" stroke-width="1"/><rect x="523.70" y="234.30" width="10.20" height="10.10" fill="#d1d3d4" stroke="#3f3f41" stroke-width="1"/><rect x="536.91" y="234.30" width="10.20" height="10.10" fill="#d1d3d4" stroke="#3f3f41" stroke-width="1"/><rect x="550.12" y="234.30" width="10.20" height="10.10" fill="#d1d3d4" stroke="#3f3f41" stroke-width="1"/><rect x="563.32" y="234.30" width="10.20" height="10.10" fill="#d1d3d4" stroke="#3f3f41" stroke-width="1"/><rect x="576.53" y="234.30" width="10.20" height="10.10" fill="#d1d3d4" stroke="#3f3f41" stroke-width="1"/><rect x="589.74" y="234.30" width="10.20" height="10.10" fill="#d1d3d4" stroke="#3f3f41" stroke-width="1"/><rect x="602.94" y="234.30" width="10.20" height="10.10" fill="#d1d3d4" stroke="#3f3f41" stroke-width="1"/><rect x="616.15" y="234.30" width="10.20" height="10.10" fill="#d1d3d4" stroke="#3f3f41" stroke-width="1"/><rect x="629.36" y="234.30" width="10.20" height="10.10" fill="#d1d3d4" stroke="#3f3f41" stroke-width="1"/><rect x="642.57" y="234.30" width="10.20" height="10.10" fill="#d1d3d4" stroke="#3f3f41" stroke-width="1"/><rect x="655.77" y="234.30" width="10.20" height="10.10" fill="#d1d3d4" stroke="#3f3f41" stroke-width="1"/><rect x="668.98" y="234.30" width="10.20" height="10.10" fill="#d1d3d4" stroke="#3f3f41" stroke-width="1"/><rect x="682.19" y="234.30" width="10.20" height="10.10" fill="#d1d3d4" stroke="#3f3f41" stroke-width="1"/><rect x="695.39" y="234.30" width="10.20" height="10.10" fill="#d1d3d4" stroke="#3f3f41" stroke-width="1"/><rect x="708.60" y="234.30" width="10.20" height="10.10" fill="#d1d3d4" stroke="#3f3f41" stroke-width="1"/><rect x="721.81" y="234.30" width="10.20" height="10.10" fill="#d1d3d4" stroke="#3f3f41" stroke-width="1"/><rect x="735.01" y="234.30" width="10.20" height="10.10" fill="#d1d3d4" stroke="#3f3f41" stroke-width="1"/><rect x="747.72" y="233.80" width="11.20" height="11.10" fill="#c49a6c"/><rect x="748.02" y="234.10" width="10.60" height="10.50" fill="none" stroke="#000" stroke-opacity="0.5" stroke-width="0.6"/><rect x="761.43" y="234.30" width="10.20" height="10.10" fill="#d1d3d4" stroke="#3f3f41" stroke-width="1"/><rect x="774.63" y="234.30" width="10.20" height="10.10" fill="#d1d3d4" stroke="#3f3f41" stroke-width="1"/><rect x="48.25" y="248.35" width="10.20" height="10.10" fill="#d1d3d4" stroke="#3f3f41" stroke-width="1"/><rect x="61.46" y="248.35" width="10.20" height="10.10" fill="#d1d3d4" stroke="#3f3f41" stroke-width="1"/><rect x="74.16" y="247.85" width="11.20" height="11.10" fill="#27aae1"/><rect x="74.46" y="248.15" width="10.60" height="10.50" fill="none" stroke="#000" stroke-opacity="0.5" stroke-width="0.6"/><rect x="87.87" y="248.35" width="10.20" height="10.10" fill="#d1d3d4" stroke="#3f3f41" stroke-width="1"/><rect x="101.08" y="248.35" width="10.20" height="10.10" fill="#d1d3d4" stroke="#3f3f41" stroke-width="1"/><rect x="114.28" y="248.35" width="10.20" height="10.10" fill="#d1d3d4" stroke="#3f3f41" stroke-width="1"/><rect x="127.49" y="248.35" width="10.20" height="10.10" fill="#d1d3d4" stroke="#3f3f41" stroke-width="1"/><rect x="140.70" y="248.35" width="10.20" height="10.10" fill="#d1d3d4" stroke="#3f3f41" stroke-width="1"/><rect x="153.91" y="248.35" width="10.20" height="10.10" fill="#d1d3d4" stroke="#3f3f41" stroke-width="1"/><rect x="167.11" y="248.35" width="10.20" height="10.10" fill="#d1d3d4" stroke="#3f3f41" stroke-width="1"/><rect x="180.32" y="248.35" width="10.20" height="10.10" fill="#d1d3d4" stroke="#3f3f41" stroke-width="1"/><rect x="193.53" y="248.35" width="10.20" height="10.10" fill="#d1d3d4" stroke="#3f3f41" stroke-width="1"/><rect x="206.73" y="248.35" width="10.20" height="10.10" fill="#d1d3d4" stroke="#3f3f41" stroke-width="1"/><rect x="219.94" y="248.35" width="10.20" height="10.10" fill="#d1d3d4" stroke="#3f3f41" stroke-width="1"/><rect x="233.15" y="248.35" width="10.20" height="10.10" fill="#d1d3d4" stroke="#3f3f41" stroke-width="1"/><rect x="246.36" y="248.35" width="10.20" height="10.10" fill="#d1d3d4" stroke="#3f3f41" stroke-width="1"/><rect x="259.56" y="248.35" width="10.20" height="10.10" fill="#d1d3d4" stroke="#3f3f41" stroke-width="1"/><rect x="272.77" y="248.35" width="10.20" height="10.10" fill="#d1d3d4" stroke="#3f3f41" stroke-width="1"/><rect x="285.98" y="248.35" width="10.20" height="10.10" fill="#d1d3d4" stroke="#3f3f41" stroke-width="1"/><rect x="299.18" y="248.35" width="10.20" height="10.10" fill="#d1d3d4" stroke="#3f3f41" stroke-width="1"/><rect x="312.39" y="248.35" width="10.20" height="10.10" fill="#d1d3d4" stroke="#3f3f41" stroke-width="1"/><rect x="325.60" y="248.35" width="10.20" height="10.10" fill="#d1d3d4" stroke="#3f3f41" stroke-width="1"/><rect x="338.80" y="248.35" width="10.20" height="10.10" fill="#d1d3d4" stroke="#3f3f41" stroke-width="1"/><rect x="352.01" y="248.35" width="10.20" height="10.10" fill="#d1d3d4" stroke="#3f3f41" stroke-width="1"/><rect x="365.22" y="248.35" width="10.20" height="10.10" fill="#d1d3d4" stroke="#3f3f41" stroke-width="1"/><rect x="378.43" y="248.35" width="10.20" height="10.10" fill="#d1d3d4" stroke="#3f3f41" stroke-width="1"/><rect x="391.63" y="248.35" width="10.20" height="10.10" fill="#d1d3d4" stroke="#3f3f41" stroke-width="1"/><rect x="404.84" y="248.35" width="10.20" height="10.10" fill="#d1d3d4" stroke="#3f3f41" stroke-width="1"/><rect x="418.05" y="248.35" width="10.20" height="10.10" fill="#d1d3d4" stroke="#3f3f41" stroke-width="1"/><rect x="431.25" y="248.35" width="10.20" height="10.10" fill="#d1d3d4" stroke="#3f3f41" stroke-width="1"/><rect x="444.46" y="248.35" width="10.20" height="10.10" fill="#d1d3d4" stroke="#3f3f41" stroke-width="1"/><rect x="457.67" y="248.35" width="10.20" height="10.10" fill="#d1d3d4" stroke="#3f3f41" stroke-width="1"/><rect x="470.87" y="248.35" width="10.20" height="10.10" fill="#d1d3d4" stroke="#3f3f41" stroke-width="1"/><rect x="484.08" y="248.35" width="10.20" height="10.10" fill="#d1d3d4" stroke="#3f3f41" stroke-width="1"/><rect x="497.29" y="248.35" width="10.20" height="10.10" fill="#d1d3d4" stroke="#3f3f41" stroke-width="1"/><rect x="510.50" y="248.35" width="10.20" height="10.10" fill="#d1d3d4" stroke="#3f3f41" stroke-width="1"/><rect x="523.70" y="248.35" width="10.20" height="10.10" fill="#d1d3d4" stroke="#3f3f41" stroke-width="1"/><rect x="536.91" y="248.35" width="10.20" height="10.10" fill="#d1d3d4" stroke="#3f3f41" stroke-width="1"/><rect x="550.12" y="248.35" width="10.20" height="10.10" fill="#d1d3d4" stroke="#3f3f41" stroke-width="1"/><rect x="563.32" y="248.35" width="10.20" height="10.10" fill="#d1d3d4" stroke="#3f3f41" stroke-width="1"/><rect x="576.53" y="248.35" width="10.20" height="10.10" fill="#d1d3d4" stroke="#3f3f41" stroke-width="1"/><rect x="589.74" y="248.35" width="10.20" height="10.10" fill="#d1d3d4" stroke="#3f3f41" stroke-width="1"/><rect x="602.94" y="248.35" width="10.20" height="10.10" fill="#d1d3d4" stroke="#3f3f41" stroke-width="1"/><rect x="616.15" y="248.35" width="10.20" height="10.10" fill="#d1d3d4" stroke="#3f3f41" stroke-width="1"/><rect x="629.36" y="248.35" width="10.20" height="10.10" fill="#d1d3d4" stroke="#3f3f41" stroke-width="1"/><rect x="642.57" y="248.35" width="10.20" height="10.10" fill="#d1d3d4" stroke="#3f3f41" stroke-width="1"/><rect x="655.77" y="248.35" width="10.20" height="10.10" fill="#d1d3d4" stroke="#3f3f41" stroke-width="1"/><rect x="668.98" y="248.35" width="10.20" height="10.10" fill="#d1d3d4" stroke="#3f3f41" stroke-width="1"/><rect x="682.19" y="248.35" width="10.20" height="10.10" fill="#d1d3d4" stroke="#3f3f41" stroke-width="1"/><rect x="695.39" y="248.35" width="10.20" height="10.10" fill="#d1d3d4" stroke="#3f3f41" stroke-width="1"/><rect x="708.60" y="248.35" width="10.20" height="10.10" fill="#d1d3d4" stroke="#3f3f41" stroke-width="1"/><rect x="721.81" y="248.35" width="10.20" height="10.10" fill="#d1d3d4" stroke="#3f3f41" stroke-width="1"/><rect x="735.01" y="248.35" width="10.20" height="10.10" fill="#d1d3d4" stroke="#3f3f41" stroke-width="1"/><rect x="748.22" y="248.35" width="10.20" height="10.10" fill="#d1d3d4" stroke="#3f3f41" stroke-width="1"/><rect x="761.43" y="248.35" width="10.20" height="10.10" fill="#d1d3d4" stroke="#3f3f41" stroke-width="1"/><rect x="774.63" y="248.35" width="10.20" height="10.10" fill="#d1d3d4" stroke="#3f3f41" stroke-width="1"/><rect x="48.25" y="262.40" width="10.20" height="10.10" fill="#d1d3d4" stroke="#3f3f41" stroke-width="1"/><rect x="60.96" y="261.90" width="11.20" height="11.10" fill="#21409a"/><rect x="61.26" y="262.20" width="10.60" height="10.50" fill="none" stroke="#000" stroke-opacity="0.5" stroke-width="0.6"/><rect x="74.66" y="262.40" width="10.20" height="10.10" fill="#d1d3d4" stroke="#3f3f41" stroke-width="1"/><rect x="87.87" y="262.40" width="10.20" height="10.10" fill="#d1d3d4" stroke="#3f3f41" stroke-width="1"/><rect x="101.08" y="262.40" width="10.20" height="10.10" fill="#d1d3d4" stroke="#3f3f41" stroke-width="1"/><rect x="114.28" y="262.40" width="10.20" height="10.10" fill="#d1d3d4" stroke="#3f3f41" stroke-width="1"/><rect x="127.49" y="262.40" width="10.20" height="10.10" fill="#d1d3d4" stroke="#3f3f41" stroke-width="1"/><rect x="140.70" y="262.40" width="10.20" height="10.10" fill="#d1d3d4" stroke="#3f3f41" stroke-width="1"/><rect x="153.91" y="262.40" width="10.20" height="10.10" fill="#d1d3d4" stroke="#3f3f41" stroke-width="1"/><rect x="167.11" y="262.40" width="10.20" height="10.10" fill="#d1d3d4" stroke="#3f3f41" stroke-width="1"/><rect x="180.32" y="262.40" width="10.20" height="10.10" fill="#d1d3d4" stroke="#3f3f41" stroke-width="1"/><rect x="193.53" y="262.40" width="10.20" height="10.10" fill="#d1d3d4" stroke="#3f3f41" stroke-width="1"/><rect x="206.73" y="262.40" width="10.20" height="10.10" fill="#d1d3d4" stroke="#3f3f41" stroke-width="1"/><rect x="219.94" y="262.40" width="10.20" height="10.10" fill="#d1d3d4" stroke="#3f3f41" stroke-width="1"/><rect x="233.15" y="262.40" width="10.20" height="10.10" fill="#d1d3d4" stroke="#3f3f41" stroke-width="1"/><rect x="246.36" y="262.40" width="10.20" height="10.10" fill="#d1d3d4" stroke="#3f3f41" stroke-width="1"/><rect x="259.56" y="262.40" width="10.20" height="10.10" fill="#d1d3d4" stroke="#3f3f41" stroke-width="1"/><rect x="272.77" y="262.40" width="10.20" height="10.10" fill="#d1d3d4" stroke="#3f3f41" stroke-width="1"/><rect x="285.98" y="262.40" width="10.20" height="10.10" fill="#d1d3d4" stroke="#3f3f41" stroke-width="1"/><rect x="299.18" y="262.40" width="10.20" height="10.10" fill="#d1d3d4" stroke="#3f3f41" stroke-width="1"/><rect x="312.39" y="262.40" width="10.20" height="10.10" fill="#d1d3d4" stroke="#3f3f41" stroke-width="1"/><rect x="325.60" y="262.40" width="10.20" height="10.10" fill="#d1d3d4" stroke="#3f3f41" stroke-width="1"/><rect x="338.80" y="262.40" width="10.20" height="10.10" fill="#d1d3d4" stroke="#3f3f41" stroke-width="1"/><rect x="352.01" y="262.40" width="10.20" height="10.10" fill="#d1d3d4" stroke="#3f3f41" stroke-width="1"/><rect x="365.22" y="262.40" width="10.20" height="10.10" fill="#d1d3d4" stroke="#3f3f41" stroke-width="1"/><rect x="378.43" y="262.40" width="10.20" height="10.10" fill="#d1d3d4" stroke="#3f3f41" stroke-width="1"/><rect x="391.63" y="262.40" width="10.20" height="10.10" fill="#d1d3d4" stroke="#3f3f41" stroke-width="1"/><rect x="404.84" y="262.40" width="10.20" height="10.10" fill="#d1d3d4" stroke="#3f3f41" stroke-width="1"/><rect x="418.05" y="262.40" width="10.20" height="10.10" fill="#d1d3d4" stroke="#3f3f41" stroke-width="1"/><rect x="431.25" y="262.40" width="10.20" height="10.10" fill="#d1d3d4" stroke="#3f3f41" stroke-width="1"/><rect x="444.46" y="262.40" width="10.20" height="10.10" fill="#d1d3d4" stroke="#3f3f41" stroke-width="1"/><rect x="457.67" y="262.40" width="10.20" height="10.10" fill="#d1d3d4" stroke="#3f3f41" stroke-width="1"/><rect x="470.87" y="262.40" width="10.20" height="10.10" fill="#d1d3d4" stroke="#3f3f41" stroke-width="1"/><rect x="484.08" y="262.40" width="10.20" height="10.10" fill="#d1d3d4" stroke="#3f3f41" stroke-width="1"/><rect x="497.29" y="262.40" width="10.20" height="10.10" fill="#d1d3d4" stroke="#3f3f41" stroke-width="1"/><rect x="510.50" y="262.40" width="10.20" height="10.10" fill="#d1d3d4" stroke="#3f3f41" stroke-width="1"/><rect x="523.70" y="262.40" width="10.20" height="10.10" fill="#d1d3d4" stroke="#3f3f41" stroke-width="1"/><rect x="536.91" y="262.40" width="10.20" height="10.10" fill="#d1d3d4" stroke="#3f3f41" stroke-width="1"/><rect x="550.12" y="262.40" width="10.20" height="10.10" fill="#d1d3d4" stroke="#3f3f41" stroke-width="1"/><rect x="563.32" y="262.40" width="10.20" height="10.10" fill="#d1d3d4" stroke="#3f3f41" stroke-width="1"/><rect x="576.53" y="262.40" width="10.20" height="10.10" fill="#d1d3d4" stroke="#3f3f41" stroke-width="1"/><rect x="589.74" y="262.40" width="10.20" height="10.10" fill="#d1d3d4" stroke="#3f3f41" stroke-width="1"/><rect x="602.94" y="262.40" width="10.20" height="10.10" fill="#d1d3d4" stroke="#3f3f41" stroke-width="1"/><rect x="616.15" y="262.40" width="10.20" height="10.10" fill="#d1d3d4" stroke="#3f3f41" stroke-width="1"/><rect x="629.36" y="262.40" width="10.20" height="10.10" fill="#d1d3d4" stroke="#3f3f41" stroke-width="1"/><rect x="642.57" y="262.40" width="10.20" height="10.10" fill="#d1d3d4" stroke="#3f3f41" stroke-width="1"/><rect x="655.77" y="262.40" width="10.20" height="10.10" fill="#d1d3d4" stroke="#3f3f41" stroke-width="1"/><rect x="668.98" y="262.40" width="10.20" height="10.10" fill="#d1d3d4" stroke="#3f3f41" stroke-width="1"/><rect x="682.19" y="262.40" width="10.20" height="10.10" fill="#d1d3d4" stroke="#3f3f41" stroke-width="1"/><rect x="695.39" y="262.40" width="10.20" height="10.10" fill="#d1d3d4" stroke="#3f3f41" stroke-width="1"/><rect x="708.60" y="262.40" width="10.20" height="10.10" fill="#d1d3d4" stroke="#3f3f41" stroke-width="1"/><rect x="721.81" y="262.40" width="10.20" height="10.10" fill="#d1d3d4" stroke="#3f3f41" stroke-width="1"/><rect x="735.01" y="262.40" width="10.20" height="10.10" fill="#d1d3d4" stroke="#3f3f41" stroke-width="1"/><rect x="748.22" y="262.40" width="10.20" height="10.10" fill="#d1d3d4" stroke="#3f3f41" stroke-width="1"/><rect x="761.43" y="262.40" width="10.20" height="10.10" fill="#d1d3d4" stroke="#3f3f41" stroke-width="1"/><rect x="774.63" y="262.40" width="10.20" height="10.10" fill="#d1d3d4" stroke="#3f3f41" stroke-width="1"/><rect x="48.25" y="276.45" width="10.20" height="10.10" fill="#d1d3d4" stroke="#3f3f41" stroke-width="1"/><rect x="61.46" y="276.45" width="10.20" height="10.10" fill="#d1d3d4" stroke="#3f3f41" stroke-width="1"/><rect x="74.66" y="276.45" width="10.20" height="10.10" fill="#d1d3d4" stroke="#3f3f41" stroke-width="1"/><rect x="87.87" y="276.45" width="10.20" height="10.10" fill="#d1d3d4" stroke="#3f3f41" stroke-width="1"/><rect x="101.08" y="276.45" width="10.20" height="10.10" fill="#d1d3d4" stroke="#3f3f41" stroke-width="1"/><rect x="114.28" y="276.45" width="10.20" height="10.10" fill="#d1d3d4" stroke="#3f3f41" stroke-width="1"/><rect x="127.49" y="276.45" width="10.20" height="10.10" fill="#d1d3d4" stroke="#3f3f41" stroke-width="1"/><rect x="140.70" y="276.45" width="10.20" height="10.10" fill="#d1d3d4" stroke="#3f3f41" stroke-width="1"/><rect x="153.91" y="276.45" width="10.20" height="10.10" fill="#d1d3d4" stroke="#3f3f41" stroke-width="1"/><rect x="167.11" y="276.45" width="10.20" height="10.10" fill="#d1d3d4" stroke="#3f3f41" stroke-width="1"/><rect x="180.32" y="276.45" width="10.20" height="10.10" fill="#d1d3d4" stroke="#3f3f41" stroke-width="1"/><rect x="193.53" y="276.45" width="10.20" height="10.10" fill="#d1d3d4" stroke="#3f3f41" stroke-width="1"/><rect x="206.73" y="276.45" width="10.20" height="10.10" fill="#d1d3d4" stroke="#3f3f41" stroke-width="1"/><rect x="219.94" y="276.45" width="10.20" height="10.10" fill="#d1d3d4" stroke="#3f3f41" stroke-width="1"/><rect x="233.15" y="276.45" width="10.20" height="10.10" fill="#d1d3d4" stroke="#3f3f41" stroke-width="1"/><rect x="246.36" y="276.45" width="10.20" height="10.10" fill="#d1d3d4" stroke="#3f3f41" stroke-width="1"/><rect x="259.56" y="276.45" width="10.20" height="10.10" fill="#d1d3d4" stroke="#3f3f41" stroke-width="1"/><rect x="272.77" y="276.45" width="10.20" height="10.10" fill="#d1d3d4" stroke="#3f3f41" stroke-width="1"/><rect x="285.98" y="276.45" width="10.20" height="10.10" fill="#d1d3d4" stroke="#3f3f41" stroke-width="1"/><rect x="299.18" y="276.45" width="10.20" height="10.10" fill="#d1d3d4" stroke="#3f3f41" stroke-width="1"/><rect x="312.39" y="276.45" width="10.20" height="10.10" fill="#d1d3d4" stroke="#3f3f41" stroke-width="1"/><rect x="325.60" y="276.45" width="10.20" height="10.10" fill="#d1d3d4" stroke="#3f3f41" stroke-width="1"/><rect x="338.80" y="276.45" width="10.20" height="10.10" fill="#d1d3d4" stroke="#3f3f41" stroke-width="1"/><rect x="352.01" y="276.45" width="10.20" height="10.10" fill="#d1d3d4" stroke="#3f3f41" stroke-width="1"/><rect x="365.22" y="276.45" width="10.20" height="10.10" fill="#d1d3d4" stroke="#3f3f41" stroke-width="1"/><rect x="378.43" y="276.45" width="10.20" height="10.10" fill="#d1d3d4" stroke="#3f3f41" stroke-width="1"/><rect x="391.63" y="276.45" width="10.20" height="10.10" fill="#d1d3d4" stroke="#3f3f41" stroke-width="1"/><rect x="404.84" y="276.45" width="10.20" height="10.10" fill="#d1d3d4" stroke="#3f3f41" stroke-width="1"/><rect x="418.05" y="276.45" width="10.20" height="10.10" fill="#d1d3d4" stroke="#3f3f41" stroke-width="1"/><rect x="431.25" y="276.45" width="10.20" height="10.10" fill="#d1d3d4" stroke="#3f3f41" stroke-width="1"/><rect x="444.46" y="276.45" width="10.20" height="10.10" fill="#d1d3d4" stroke="#3f3f41" stroke-width="1"/><rect x="457.67" y="276.45" width="10.20" height="10.10" fill="#d1d3d4" stroke="#3f3f41" stroke-width="1"/><rect x="470.87" y="276.45" width="10.20" height="10.10" fill="#d1d3d4" stroke="#3f3f41" stroke-width="1"/><rect x="484.08" y="276.45" width="10.20" height="10.10" fill="#d1d3d4" stroke="#3f3f41" stroke-width="1"/><rect x="497.29" y="276.45" width="10.20" height="10.10" fill="#d1d3d4" stroke="#3f3f41" stroke-width="1"/><rect x="510.50" y="276.45" width="10.20" height="10.10" fill="#d1d3d4" stroke="#3f3f41" stroke-width="1"/><rect x="523.70" y="276.45" width="10.20" height="10.10" fill="#d1d3d4" stroke="#3f3f41" stroke-width="1"/><rect x="536.91" y="276.45" width="10.20" height="10.10" fill="#d1d3d4" stroke="#3f3f41" stroke-width="1"/><rect x="550.12" y="276.45" width="10.20" height="10.10" fill="#d1d3d4" stroke="#3f3f41" stroke-width="1"/><rect x="563.32" y="276.45" width="10.20" height="10.10" fill="#d1d3d4" stroke="#3f3f41" stroke-width="1"/><rect x="576.53" y="276.45" width="10.20" height="10.10" fill="#d1d3d4" stroke="#3f3f41" stroke-width="1"/><rect x="589.24" y="275.95" width="11.20" height="11.10" fill="#c49a6c"/><rect x="589.54" y="276.25" width="10.60" height="10.50" fill="none" stroke="#000" stroke-opacity="0.5" stroke-width="0.6"/><rect x="602.94" y="276.45" width="10.20" height="10.10" fill="#d1d3d4" stroke="#3f3f41" stroke-width="1"/><rect x="616.15" y="276.45" width="10.20" height="10.10" fill="#d1d3d4" stroke="#3f3f41" stroke-width="1"/><rect x="629.36" y="276.45" width="10.20" height="10.10" fill="#d1d3d4" stroke="#3f3f41" stroke-width="1"/><rect x="642.57" y="276.45" width="10.20" height="10.10" fill="#d1d3d4" stroke="#3f3f41" stroke-width="1"/><rect x="655.77" y="276.45" width="10.20" height="10.10" fill="#d1d3d4" stroke="#3f3f41" stroke-width="1"/><rect x="668.98" y="276.45" width="10.20" height="10.10" fill="#d1d3d4" stroke="#3f3f41" stroke-width="1"/><rect x="682.19" y="276.45" width="10.20" height="10.10" fill="#d1d3d4" stroke="#3f3f41" stroke-width="1"/><rect x="695.39" y="276.45" width="10.20" height="10.10" fill="#d1d3d4" stroke="#3f3f41" stroke-width="1"/><rect x="708.60" y="276.45" width="10.20" height="10.10" fill="#d1d3d4" stroke="#3f3f41" stroke-width="1"/><rect x="721.81" y="276.45" width="10.20" height="10.10" fill="#d1d3d4" stroke="#3f3f41" stroke-width="1"/><rect x="735.01" y="276.45" width="10.20" height="10.10" fill="#d1d3d4" stroke="#3f3f41" stroke-width="1"/><rect x="748.22" y="276.45" width="10.20" height="10.10" fill="#d1d3d4" stroke="#3f3f41" stroke-width="1"/><rect x="761.43" y="276.45" width="10.20" height="10.10" fill="#d1d3d4" stroke="#3f3f41" stroke-width="1"/><rect x="774.63" y="276.45" width="10.20" height="10.10" fill="#d1d3d4" stroke="#3f3f41" stroke-width="1"/><rect x="48.25" y="290.50" width="10.20" height="10.10" fill="#d1d3d4" stroke="#3f3f41" stroke-width="1"/><rect x="61.46" y="290.50" width="10.20" height="10.10" fill="#d1d3d4" stroke="#3f3f41" stroke-width="1"/><rect x="74.66" y="290.50" width="10.20" height="10.10" fill="#d1d3d4" stroke="#3f3f41" stroke-width="1"/><rect x="87.87" y="290.50" width="10.20" height="10.10" fill="#d1d3d4" stroke="#3f3f41" stroke-width="1"/><rect x="101.08" y="290.50" width="10.20" height="10.10" fill="#d1d3d4" stroke="#3f3f41" stroke-width="1"/><rect x="114.28" y="290.50" width="10.20" height="10.10" fill="#d1d3d4" stroke="#3f3f41" stroke-width="1"/><rect x="127.49" y="290.50" width="10.20" height="10.10" fill="#d1d3d4" stroke="#3f3f41" stroke-width="1"/><rect x="140.70" y="290.50" width="10.20" height="10.10" fill="#d1d3d4" stroke="#3f3f41" stroke-width="1"/><rect x="153.91" y="290.50" width="10.20" height="10.10" fill="#d1d3d4" stroke="#3f3f41" stroke-width="1"/><rect x="167.11" y="290.50" width="10.20" height="10.10" fill="#d1d3d4" stroke="#3f3f41" stroke-width="1"/><rect x="180.32" y="290.50" width="10.20" height="10.10" fill="#d1d3d4" stroke="#3f3f41" stroke-width="1"/><rect x="193.53" y="290.50" width="10.20" height="10.10" fill="#d1d3d4" stroke="#3f3f41" stroke-width="1"/><rect x="206.73" y="290.50" width="10.20" height="10.10" fill="#d1d3d4" stroke="#3f3f41" stroke-width="1"/><rect x="219.94" y="290.50" width="10.20" height="10.10" fill="#d1d3d4" stroke="#3f3f41" stroke-width="1"/><rect x="233.15" y="290.50" width="10.20" height="10.10" fill="#d1d3d4" stroke="#3f3f41" stroke-width="1"/><rect x="246.36" y="290.50" width="10.20" height="10.10" fill="#d1d3d4" stroke="#3f3f41" stroke-width="1"/><rect x="259.06" y="290.00" width="11.20" height="11.10" fill="#27aae1"/><rect x="259.36" y="290.30" width="10.60" height="10.50" fill="none" stroke="#000" stroke-opacity="0.5" stroke-width="0.6"/><rect x="272.77" y="290.50" width="10.20" height="10.10" fill="#d1d3d4" stroke="#3f3f41" stroke-width="1"/><rect x="285.98" y="290.50" width="10.20" height="10.10" fill="#d1d3d4" stroke="#3f3f41" stroke-width="1"/><rect x="299.18" y="290.50" width="10.20" height="10.10" fill="#d1d3d4" stroke="#3f3f41" stroke-width="1"/><rect x="312.39" y="290.50" width="10.20" height="10.10" fill="#d1d3d4" stroke="#3f3f41" stroke-width="1"/><rect x="325.60" y="290.50" width="10.20" height="10.10" fill="#d1d3d4" stroke="#3f3f41" stroke-width="1"/><rect x="338.80" y="290.50" width="10.20" height="10.10" fill="#d1d3d4" stroke="#3f3f41" stroke-width="1"/><rect x="352.01" y="290.50" width="10.20" height="10.10" fill="#d1d3d4" stroke="#3f3f41" stroke-width="1"/><rect x="365.22" y="290.50" width="10.20" height="10.10" fill="#d1d3d4" stroke="#3f3f41" stroke-width="1"/><rect x="378.43" y="290.50" width="10.20" height="10.10" fill="#d1d3d4" stroke="#3f3f41" stroke-width="1"/><rect x="391.63" y="290.50" width="10.20" height="10.10" fill="#d1d3d4" stroke="#3f3f41" stroke-width="1"/><rect x="404.84" y="290.50" width="10.20" height="10.10" fill="#d1d3d4" stroke="#3f3f41" stroke-width="1"/><rect x="418.05" y="290.50" width="10.20" height="10.10" fill="#d1d3d4" stroke="#3f3f41" stroke-width="1"/><rect x="431.25" y="290.50" width="10.20" height="10.10" fill="#d1d3d4" stroke="#3f3f41" stroke-width="1"/><rect x="444.46" y="290.50" width="10.20" height="10.10" fill="#d1d3d4" stroke="#3f3f41" stroke-width="1"/><rect x="457.67" y="290.50" width="10.20" height="10.10" fill="#d1d3d4" stroke="#3f3f41" stroke-width="1"/><rect x="470.87" y="290.50" width="10.20" height="10.10" fill="#d1d3d4" stroke="#3f3f41" stroke-width="1"/><rect x="484.08" y="290.50" width="10.20" height="10.10" fill="#d1d3d4" stroke="#3f3f41" stroke-width="1"/><rect x="497.29" y="290.50" width="10.20" height="10.10" fill="#d1d3d4" stroke="#3f3f41" stroke-width="1"/><rect x="510.50" y="290.50" width="10.20" height="10.10" fill="#d1d3d4" stroke="#3f3f41" stroke-width="1"/><rect x="523.70" y="290.50" width="10.20" height="10.10" fill="#d1d3d4" stroke="#3f3f41" stroke-width="1"/><rect x="536.91" y="290.50" width="10.20" height="10.10" fill="#d1d3d4" stroke="#3f3f41" stroke-width="1"/><rect x="550.12" y="290.50" width="10.20" height="10.10" fill="#d1d3d4" stroke="#3f3f41" stroke-width="1"/><rect x="563.32" y="290.50" width="10.20" height="10.10" fill="#d1d3d4" stroke="#3f3f41" stroke-width="1"/><rect x="576.53" y="290.50" width="10.20" height="10.10" fill="#d1d3d4" stroke="#3f3f41" stroke-width="1"/><rect x="589.74" y="290.50" width="10.20" height="10.10" fill="#d1d3d4" stroke="#3f3f41" stroke-width="1"/><rect x="602.94" y="290.50" width="10.20" height="10.10" fill="#d1d3d4" stroke="#3f3f41" stroke-width="1"/><rect x="616.15" y="290.50" width="10.20" height="10.10" fill="#d1d3d4" stroke="#3f3f41" stroke-width="1"/><rect x="629.36" y="290.50" width="10.20" height="10.10" fill="#d1d3d4" stroke="#3f3f41" stroke-width="1"/><rect x="642.57" y="290.50" width="10.20" height="10.10" fill="#d1d3d4" stroke="#3f3f41" stroke-width="1"/><rect x="655.77" y="290.50" width="10.20" height="10.10" fill="#d1d3d4" stroke="#3f3f41" stroke-width="1"/><rect x="668.98" y="290.50" width="10.20" height="10.10" fill="#d1d3d4" stroke="#3f3f41" stroke-width="1"/><rect x="682.19" y="290.50" width="10.20" height="10.10" fill="#d1d3d4" stroke="#3f3f41" stroke-width="1"/><rect x="695.39" y="290.50" width="10.20" height="10.10" fill="#d1d3d4" stroke="#3f3f41" stroke-width="1"/><rect x="708.60" y="290.50" width="10.20" height="10.10" fill="#d1d3d4" stroke="#3f3f41" stroke-width="1"/><rect x="721.81" y="290.50" width="10.20" height="10.10" fill="#d1d3d4" stroke="#3f3f41" stroke-width="1"/><rect x="735.01" y="290.50" width="10.20" height="10.10" fill="#d1d3d4" stroke="#3f3f41" stroke-width="1"/><rect x="748.22" y="290.50" width="10.20" height="10.10" fill="#d1d3d4" stroke="#3f3f41" stroke-width="1"/><rect x="761.43" y="290.50" width="10.20" height="10.10" fill="#d1d3d4" stroke="#3f3f41" stroke-width="1"/><rect x="774.63" y="290.50" width="10.20" height="10.10" fill="#d1d3d4" stroke="#3f3f41" stroke-width="1"/><path d="M53.70,129.55V125.35L52.30,126.45M93.32,129.55V125.35L91.92,126.45M119.73,129.55V125.35L118.33,126.45M198.98,129.55V125.35L197.58,126.45M209.58,129.55V125.35L208.18,126.45M214.98,129.55V125.35L213.58,126.45M251.81,129.55V125.35L250.41,126.45M265.01,129.55V125.35L263.61,126.45M328.45,129.55V125.35L327.05,126.45M333.85,129.55V125.35L332.45,126.45M344.25,129.55V125.35L342.85,126.45M357.46,129.55V125.35L356.06,126.45M370.67,129.55V125.35L369.27,126.45M383.88,129.55V125.35L382.48,126.45M410.29,129.55V125.35L408.89,126.45M423.50,129.55V125.35L422.10,126.45M463.12,129.55V125.35L461.72,126.45M476.32,129.55V125.35L474.92,126.45M489.53,129.55V125.35L488.13,126.45M502.74,129.55V125.35L501.34,126.45M515.95,129.55V125.35L514.55,126.45M529.15,129.55V125.35L527.75,126.45M608.39,129.55V125.35L606.99,126.45M634.81,129.55V125.35L633.41,126.45M648.02,129.55V125.35L646.62,126.45M661.22,129.55V125.35L659.82,126.45M674.43,129.55V125.35L673.03,126.45M700.84,129.55V125.35L699.44,126.45M727.26,129.55V125.35L725.86,126.45M740.46,129.55V125.35L739.06,126.45M766.88,129.55V125.35L765.48,126.45M49.50,140.60C49.55,139.30 52.05,139.20 52.05,140.60C52.05,141.70 49.45,142.40 49.40,143.60H52.20M56.50,143.60V139.40L55.10,140.50M66.91,143.60V139.40L65.51,140.50M117.13,143.60V139.40L115.73,140.50M122.53,143.60V139.40L121.14,140.50M159.36,143.60V139.40L157.96,140.50M169.96,143.60V139.40L168.56,140.50M175.36,143.60V139.40L173.96,140.50M181.57,140.60C181.62,139.30 184.12,139.20 184.12,140.60C184.12,141.70 181.52,142.40 181.47,143.60H184.27M188.57,143.60V139.40L187.17,140.50M196.38,143.60V139.40L194.98,140.50M201.78,143.60V139.40L200.38,140.50M265.01,143.60V139.40L263.61,140.50M302.03,143.60V139.40L300.63,140.50M307.43,143.60V139.40L306.03,140.50M357.46,143.60V139.40L356.06,140.50M370.67,143.60V139.40L369.27,140.50M397.08,143.60V139.40L395.68,140.50M410.29,143.60V139.40L408.89,140.50M423.50,143.60V139.40L422.10,140.50M461.52,140.60C461.57,139.30 464.07,139.20 464.07,140.60C464.07,141.70 461.47,142.40 461.42,143.60H464.22M581.98,143.60V139.40L580.58,140.50M634.81,143.60V139.40L633.41,140.50M648.02,143.60V139.40L646.62,140.50M661.22,143.60V139.40L659.82,140.50M687.64,143.60V139.40L686.24,140.50M766.88,143.60V139.40L765.48,140.50M780.09,143.60V139.40L778.69,140.50M185.77,157.65V153.45L184.37,154.55M198.98,157.65V153.45L197.58,154.55M209.58,157.65V153.45L208.18,154.55M214.98,157.65V153.45L213.58,154.55M370.67,157.65V153.45L369.27,154.55M66.91,171.70V167.50L65.51,168.60M225.39,171.70V167.50L223.99,168.60M555.57,171.70V167.50L554.17,168.60M581.98,171.70V167.50L580.58,168.60M595.19,171.70V167.50L593.79,168.60M753.67,171.70V167.50L752.27,168.60M185.77,185.75V181.55L184.37,182.65M198.98,185.75V181.55L197.58,182.65M357.46,185.75V181.55L356.06,182.65M436.70,185.75V181.55L435.30,182.65M581.98,185.75V181.55L580.58,182.65M80.11,199.80V195.60L78.71,196.70M93.32,199.80V195.60L91.92,196.70M291.43,199.80V195.60L290.03,196.70M436.70,199.80V195.60L435.30,196.70M357.46,213.85V209.65L356.06,210.75M132.94,227.90V223.70L131.54,224.80M753.67,241.95V237.75L752.27,238.85M80.11,256.00V251.80L78.71,252.90M66.91,270.05V265.85L65.51,266.95M595.19,284.10V279.90L593.79,281.00M265.01,298.15V293.95L263.61,295.05" fill="none" stroke="#fff" stroke-width="1.0" stroke-linecap="butt" stroke-linejoin="miter"/></svg>
<div class="t" style="left:67.00px;top:308.00px;font-size:11.8px;font-weight:normal;color:#231f20;letter-spacing:0px;">Identical alteration in cfDNA,</div>
<div class="t" style="left:67.00px;top:322.00px;font-size:11.8px;font-weight:normal;color:#231f20;letter-spacing:0px;">FFPE tumor DNA and FF tumor DNA</div>
<div class="t" style="left:67.00px;top:343.00px;font-size:11.8px;font-weight:normal;color:#231f20;letter-spacing:0px;">Alteration only in cfDNA</div>
<div class="t" style="left:67.00px;top:363.00px;font-size:11.8px;font-weight:normal;color:#231f20;letter-spacing:0px;">No alteration in cfDNA,</div>
<div class="t" style="left:67.00px;top:377.00px;font-size:11.8px;font-weight:normal;color:#231f20;letter-spacing:0px;">FFPE tumor DNA or FF tumor DNA</div>
<div class="t" style="left:331.90px;top:308.00px;font-size:11.8px;font-weight:normal;color:#231f20;letter-spacing:0px;">Identical alteration in</div>
<div class="t" style="left:331.90px;top:322.00px;font-size:11.8px;font-weight:normal;color:#231f20;letter-spacing:0px;">cfDNA and FFPE tumor DNA</div>
<div class="t" style="left:331.90px;top:343.00px;font-size:11.8px;font-weight:normal;color:#231f20;letter-spacing:0px;">Alteration only in FFPE tumor DNA</div>
<div class="t" style="left:571.90px;top:308.00px;font-size:11.8px;font-weight:normal;color:#231f20;letter-spacing:0px;">Identical alteration in</div>
<div class="t" style="left:571.90px;top:322.00px;font-size:11.8px;font-weight:normal;color:#231f20;letter-spacing:0px;">FFPE tumor DNA and FF tumor DNA</div>
<div class="t" style="left:571.90px;top:343.00px;font-size:11.8px;font-weight:normal;color:#231f20;letter-spacing:0px;">Alteration only in FF tumor DNA</div>
<div class="t" style="left:13.06px;top:403.00px;font-size:23.3px;font-weight:bold;color:#000;letter-spacing:0px;">b</div>
<div class="t" style="left:-331.50px;width:400px;text-align:right;top:539.00px;font-size:11.3px;font-weight:normal;color:#231f20;letter-spacing:0px;">0</div>
<div class="t" style="left:-331.50px;width:400px;text-align:right;top:516.00px;font-size:11.3px;font-weight:normal;color:#231f20;letter-spacing:0px;">20</div>
<div class="t" style="left:-331.50px;width:400px;text-align:right;top:492.00px;font-size:11.3px;font-weight:normal;color:#231f20;letter-spacing:0px;">40</div>
<div class="t" style="left:-331.50px;width:400px;text-align:right;top:469.00px;font-size:11.3px;font-weight:normal;color:#231f20;letter-spacing:0px;">60</div>
<div class="t" style="left:-331.50px;width:400px;text-align:right;top:445.00px;font-size:11.3px;font-weight:normal;color:#231f20;letter-spacing:0px;">80</div>
<div class="t" style="left:-331.50px;width:400px;text-align:right;top:422.00px;font-size:11.3px;font-weight:normal;color:#231f20;letter-spacing:0px;">100</div>
<div class="t" style="left:-100.45px;width:400px;text-align:center;top:551.00px;font-size:11.3px;font-weight:normal;color:#231f20;letter-spacing:0px;">I-II</div>
<div class="t" style="left:-49.80px;width:400px;text-align:center;top:551.00px;font-size:11.3px;font-weight:normal;color:#231f20;letter-spacing:0px;">III-IV</div>
<div class="t" style="left:-75.10px;width:400px;text-align:center;top:562.00px;font-size:11.3px;font-weight:normal;color:#231f20;letter-spacing:0px;">Stage</div>
<div class="t" style="left:-171.00px;top:486.15px;width:400px;height:11.3px;line-height:11.3px;text-align:center;font-size:11.3px;color:#231f20;font-weight:normal;transform:rotate(-90deg);transform-origin:200px 5.65px">Frequency of cases</div>
<div class="t" style="left:-157.00px;top:484.75px;width:400px;height:11.3px;line-height:11.3px;text-align:center;font-size:11.3px;color:#231f20;font-weight:normal;transform:rotate(-90deg);transform-origin:200px 5.65px">with ctDNA alterations (%)</div>
<div class="t" style="left:200.99px;top:403.00px;font-size:23.3px;font-weight:bold;color:#000;letter-spacing:0px;">c</div>
<div class="t" style="left:-150.60px;width:400px;text-align:right;top:539.00px;font-size:11.3px;font-weight:normal;color:#231f20;letter-spacing:0px;">0</div>
<div class="t" style="left:-150.60px;width:400px;text-align:right;top:516.00px;font-size:11.3px;font-weight:normal;color:#231f20;letter-spacing:0px;">20</div>
<div class="t" style="left:-150.60px;width:400px;text-align:right;top:492.00px;font-size:11.3px;font-weight:normal;color:#231f20;letter-spacing:0px;">40</div>
<div class="t" style="left:-150.60px;width:400px;text-align:right;top:469.00px;font-size:11.3px;font-weight:normal;color:#231f20;letter-spacing:0px;">60</div>
<div class="t" style="left:-150.60px;width:400px;text-align:right;top:446.00px;font-size:11.3px;font-weight:normal;color:#231f20;letter-spacing:0px;">80</div>
<div class="t" style="left:-150.60px;width:400px;text-align:right;top:422.00px;font-size:11.3px;font-weight:normal;color:#231f20;letter-spacing:0px;">100</div>
<div class="t" style="left:80.15px;width:400px;text-align:center;top:551.00px;font-size:11.3px;font-weight:normal;color:#231f20;letter-spacing:0px;">I-II</div>
<div class="t" style="left:129.85px;width:400px;text-align:center;top:551.00px;font-size:11.3px;font-weight:normal;color:#231f20;letter-spacing:0px;">III-IV</div>
<div class="t" style="left:105.80px;width:400px;text-align:center;top:562.00px;font-size:11.3px;font-weight:normal;color:#231f20;letter-spacing:0px;">Stage</div>
<div class="t" style="left:25.40px;top:478.75px;width:400px;height:11.3px;line-height:11.3px;text-align:center;font-size:11.3px;color:#231f20;font-weight:normal;transform:rotate(-90deg);transform-origin:200px 5.65px">Positive concordance (%)</div>
<div class="t" style="left:377.04px;top:403.00px;font-size:23.3px;font-weight:bold;color:#000;letter-spacing:0px;">d</div>
<div class="t" style="left:31.20px;width:400px;text-align:right;top:540.00px;font-size:11.3px;font-weight:normal;color:#231f20;letter-spacing:0px;">0</div>
<div class="t" style="left:31.20px;width:400px;text-align:right;top:517.00px;font-size:11.3px;font-weight:normal;color:#231f20;letter-spacing:0px;">20</div>
<div class="t" style="left:31.20px;width:400px;text-align:right;top:493.00px;font-size:11.3px;font-weight:normal;color:#231f20;letter-spacing:0px;">40</div>
<div class="t" style="left:31.20px;width:400px;text-align:right;top:470.00px;font-size:11.3px;font-weight:normal;color:#231f20;letter-spacing:0px;">60</div>
<div class="t" style="left:31.20px;width:400px;text-align:right;top:446.00px;font-size:11.3px;font-weight:normal;color:#231f20;letter-spacing:0px;">80</div>
<div class="t" style="left:31.20px;width:400px;text-align:right;top:423.00px;font-size:11.3px;font-weight:normal;color:#231f20;letter-spacing:0px;">100</div>
<div class="t" style="left:261.55px;width:400px;text-align:center;top:551.00px;font-size:11.3px;font-weight:normal;color:#231f20;letter-spacing:0px;">I-II</div>
<div class="t" style="left:312.10px;width:400px;text-align:center;top:551.00px;font-size:11.3px;font-weight:normal;color:#231f20;letter-spacing:0px;">III-IV</div>
<div class="t" style="left:287.60px;width:400px;text-align:center;top:562.00px;font-size:11.3px;font-weight:normal;color:#231f20;letter-spacing:0px;">Stage</div>
<div class="t" style="left:207.00px;top:479.35px;width:400px;height:11.3px;line-height:11.3px;text-align:center;font-size:11.3px;color:#231f20;font-weight:normal;transform:rotate(-90deg);transform-origin:200px 5.65px">Overall concordance (%)</div>
<div class="t" style="left:564.69px;top:403.00px;font-size:23.3px;font-weight:bold;color:#000;letter-spacing:0px;">e</div>
<div class="t" style="left:212.40px;width:400px;text-align:right;top:540.00px;font-size:11.3px;font-weight:normal;color:#231f20;letter-spacing:0px;">0</div>
<div class="t" style="left:212.40px;width:400px;text-align:right;top:517.00px;font-size:11.3px;font-weight:normal;color:#231f20;letter-spacing:0px;">20</div>
<div class="t" style="left:212.40px;width:400px;text-align:right;top:493.00px;font-size:11.3px;font-weight:normal;color:#231f20;letter-spacing:0px;">40</div>
<div class="t" style="left:212.40px;width:400px;text-align:right;top:470.00px;font-size:11.3px;font-weight:normal;color:#231f20;letter-spacing:0px;">60</div>
<div class="t" style="left:212.40px;width:400px;text-align:right;top:446.00px;font-size:11.3px;font-weight:normal;color:#231f20;letter-spacing:0px;">80</div>
<div class="t" style="left:212.40px;width:400px;text-align:right;top:423.00px;font-size:11.3px;font-weight:normal;color:#231f20;letter-spacing:0px;">100</div>
<div class="t" style="left:440.80px;width:400px;text-align:center;top:551.00px;font-size:11.3px;font-weight:normal;color:#231f20;letter-spacing:0px;">cfDNA</div>
<div class="t" style="left:493.70px;width:400px;text-align:center;top:551.00px;font-size:11.3px;font-weight:normal;color:#231f20;letter-spacing:0px;">FFPE+FF</div>
<div class="t" style="left:388.00px;top:481.85px;width:400px;height:11.3px;line-height:11.3px;text-align:center;font-size:11.3px;color:#231f20;font-weight:normal;transform:rotate(-90deg);transform-origin:200px 5.65px">Specific mutations (%)</div>
<div class="t" style="left:13.90px;top:580.00px;font-size:23.3px;font-weight:bold;color:#000;letter-spacing:0px;">f</div>
<div class="t" style="left:-331.70px;width:400px;text-align:right;top:715.00px;font-size:11.3px;font-weight:normal;color:#231f20;letter-spacing:0px;">0</div>
<div class="t" style="left:-331.70px;width:400px;text-align:right;top:691.00px;font-size:11.3px;font-weight:normal;color:#231f20;letter-spacing:0px;">20</div>
<div class="t" style="left:-331.70px;width:400px;text-align:right;top:668.00px;font-size:11.3px;font-weight:normal;color:#231f20;letter-spacing:0px;">40</div>
<div class="t" style="left:-331.70px;width:400px;text-align:right;top:645.00px;font-size:11.3px;font-weight:normal;color:#231f20;letter-spacing:0px;">60</div>
<div class="t" style="left:-331.70px;width:400px;text-align:right;top:621.00px;font-size:11.3px;font-weight:normal;color:#231f20;letter-spacing:0px;">80</div>
<div class="t" style="left:-331.70px;width:400px;text-align:right;top:598.00px;font-size:11.3px;font-weight:normal;color:#231f20;letter-spacing:0px;">100</div>
<div class="t" style="left:-97.75px;width:400px;text-align:center;top:727.00px;font-size:11.3px;font-weight:normal;color:#231f20;letter-spacing:0px;">AC</div>
<div class="t" style="left:-54.30px;width:400px;text-align:center;top:727.00px;font-size:11.3px;font-weight:normal;color:#231f20;letter-spacing:0px;">SCC</div>
<div class="t" style="left:-157.60px;top:654.85px;width:400px;height:11.3px;line-height:11.3px;text-align:center;font-size:11.3px;color:#231f20;font-weight:normal;transform:rotate(-90deg);transform-origin:200px 5.65px">Overall concordance (%)</div>
<div class="t" style="left:200.94px;top:581.00px;font-size:23.3px;font-weight:bold;color:#000;letter-spacing:0px;">g</div>
<div class="t" style="left:-150.10px;width:400px;text-align:right;top:715.00px;font-size:11.3px;font-weight:normal;color:#231f20;letter-spacing:0px;">0</div>
<div class="t" style="left:-150.10px;width:400px;text-align:right;top:692.00px;font-size:11.3px;font-weight:normal;color:#231f20;letter-spacing:0px;">20</div>
<div class="t" style="left:-150.10px;width:400px;text-align:right;top:668.00px;font-size:11.3px;font-weight:normal;color:#231f20;letter-spacing:0px;">40</div>
<div class="t" style="left:-150.10px;width:400px;text-align:right;top:645.00px;font-size:11.3px;font-weight:normal;color:#231f20;letter-spacing:0px;">60</div>
<div class="t" style="left:-150.10px;width:400px;text-align:right;top:621.00px;font-size:11.3px;font-weight:normal;color:#231f20;letter-spacing:0px;">80</div>
<div class="t" style="left:-150.10px;width:400px;text-align:right;top:598.00px;font-size:11.3px;font-weight:normal;color:#231f20;letter-spacing:0px;">100</div>
<div class="t" style="left:78.75px;width:400px;text-align:center;top:727.00px;font-size:11.3px;font-weight:normal;color:#231f20;letter-spacing:0px;">FFPE</div>
<div class="t" style="left:132.30px;width:400px;text-align:center;top:727.00px;font-size:11.3px;font-weight:normal;color:#231f20;letter-spacing:0px;">FF</div>
<div class="t" style="left:25.30px;top:654.35px;width:400px;height:11.3px;line-height:11.3px;text-align:center;font-size:11.3px;color:#231f20;font-weight:normal;transform:rotate(-90deg);transform-origin:200px 5.65px">Specific mutations (%)</div>
<div class="t" style="left:376.77px;top:581.00px;font-size:23.3px;font-weight:bold;color:#000;letter-spacing:0px;">h</div>
<div class="t" style="left:31.50px;width:400px;text-align:right;top:715.00px;font-size:11.3px;font-weight:normal;color:#231f20;letter-spacing:0px;">0</div>
<div class="t" style="left:31.50px;width:400px;text-align:right;top:692.00px;font-size:11.3px;font-weight:normal;color:#231f20;letter-spacing:0px;">20</div>
<div class="t" style="left:31.50px;width:400px;text-align:right;top:668.00px;font-size:11.3px;font-weight:normal;color:#231f20;letter-spacing:0px;">40</div>
<div class="t" style="left:31.50px;width:400px;text-align:right;top:645.00px;font-size:11.3px;font-weight:normal;color:#231f20;letter-spacing:0px;">60</div>
<div class="t" style="left:31.50px;width:400px;text-align:right;top:622.00px;font-size:11.3px;font-weight:normal;color:#231f20;letter-spacing:0px;">80</div>
<div class="t" style="left:31.50px;width:400px;text-align:right;top:598.00px;font-size:11.3px;font-weight:normal;color:#231f20;letter-spacing:0px;">100</div>
<div class="t" style="left:263.75px;width:400px;text-align:center;top:727.00px;font-size:11.3px;font-weight:normal;color:#231f20;letter-spacing:0px;">FFPE</div>
<div class="t" style="left:312.95px;width:400px;text-align:center;top:727.00px;font-size:11.3px;font-weight:normal;color:#231f20;letter-spacing:0px;">FF</div>
<div class="t" style="left:206.20px;top:655.65px;width:400px;height:11.3px;line-height:11.3px;text-align:center;font-size:11.3px;color:#231f20;font-weight:normal;transform:rotate(-90deg);transform-origin:200px 5.65px">Overall concordance (%)</div>
<div class="t" style="left:563.97px;top:580.00px;font-size:23.3px;font-weight:bold;color:#000;letter-spacing:0px;">i</div>
<div class="t" style="left:212.20px;width:400px;text-align:right;top:716.00px;font-size:11.3px;font-weight:normal;color:#231f20;letter-spacing:0px;">0</div>
<div class="t" style="left:212.20px;width:400px;text-align:right;top:677.00px;font-size:11.3px;font-weight:normal;color:#231f20;letter-spacing:0px;">50</div>
<div class="t" style="left:212.20px;width:400px;text-align:right;top:638.00px;font-size:11.3px;font-weight:normal;color:#231f20;letter-spacing:0px;">100</div>
<div class="t" style="left:212.20px;width:400px;text-align:right;top:599.00px;font-size:11.3px;font-weight:normal;color:#231f20;letter-spacing:0px;">150</div>
<div class="t" style="left:437.70px;width:400px;text-align:center;top:728.00px;font-size:11.8px;font-weight:normal;color:#231f20;letter-spacing:0px;">0-2</div>
<div class="t" style="left:467.60px;width:400px;text-align:center;top:728.00px;font-size:11.8px;font-weight:normal;color:#231f20;letter-spacing:0px;">4-6</div>
<div class="t" style="left:498.20px;width:400px;text-align:center;top:728.00px;font-size:11.8px;font-weight:normal;color:#231f20;letter-spacing:0px;">8-12</div>
<div class="t" style="left:469.00px;width:400px;text-align:center;top:737.00px;font-size:11.9px;font-weight:normal;color:#231f20;letter-spacing:0px;">Plasma processing time (h)</div>
<div class="t" style="left:388.50px;top:656.75px;width:400px;height:11.3px;line-height:11.3px;text-align:center;font-size:11.3px;color:#231f20;font-weight:normal;transform:rotate(-90deg);transform-origin:200px 5.65px">cfDNA extracted (ng/mL)</div>
<div class="t" style="left:463.80px;top:620.30px;width:400px;height:11.8px;line-height:11.8px;text-align:center;font-size:11.8px;color:#231f20;font-weight:normal;transform:rotate(-90deg);transform-origin:200px 5.9px">P = 0.0008</div>
<div class="t" style="left:498.60px;top:620.80px;width:400px;height:11.8px;line-height:11.8px;text-align:center;font-size:11.8px;color:#231f20;font-weight:normal;transform:rotate(-90deg);transform-origin:200px 5.9px">P = 0.0101</div>
</div></body></html>
